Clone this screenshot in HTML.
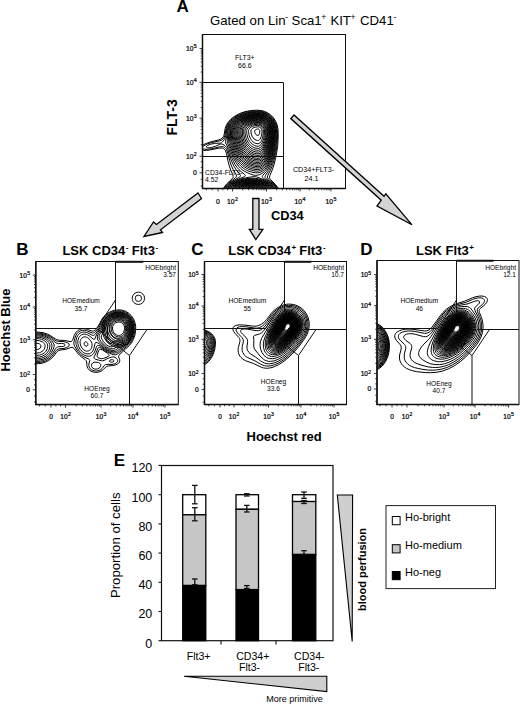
<!DOCTYPE html>
<html><head><meta charset="utf-8"><style>
html,body{margin:0;padding:0;background:#fff;}
svg{display:block;}
text{font-family:"Liberation Sans", sans-serif;fill:#000;}
text.s{stroke:#000;stroke-width:0.22px;}
</style></head><body>
<svg width="520" height="704" viewBox="0 0 520 704">
<rect width="520" height="704" fill="#fff"/>
<text x="176.5" y="12.3" font-size="17" text-anchor="start" font-weight="bold" >A</text>
<text x="210.0" y="24.5" font-size="13.2" text-anchor="start" font-weight="normal" >Gated on Lin</text>
<text x="291.6" y="24.5" font-size="13.2" text-anchor="start" font-weight="normal" >Sca1</text>
<text x="330.4" y="24.5" font-size="13.2" text-anchor="start" font-weight="normal" >KIT</text>
<text x="360.0" y="24.5" font-size="13.2" text-anchor="start" font-weight="normal" >CD41</text>
<text x="285.2" y="19.8" font-size="8.6" text-anchor="start" font-weight="normal" >-</text>
<text x="321.3" y="19.8" font-size="8.6" text-anchor="start" font-weight="normal" >+</text>
<text x="350.5" y="19.8" font-size="8.6" text-anchor="start" font-weight="normal" >+</text>
<text x="393.5" y="19.8" font-size="8.6" text-anchor="start" font-weight="normal" >-</text>
<clipPath id="cA"><rect x="202.5" y="34.5" width="143.0" height="154.0"/></clipPath>
<path clip-path="url(#cA)" d="M258.3 135.4 257.1 135.3 256.2 134.8 255.4 133.8 254.9 132.6 254.7 131.4 254.8 130.5 255.3 129.9 256.5 129.2 257.7 129.0 258.6 129.1 259.3 129.6 259.8 130.5 259.8 132.0 259.5 133.8 258.9 134.9 258.3 135.4 M258.6 140.4 257.4 140.5 256.2 140.2 254.1 139.0 252.4 136.8 251.3 134.1 250.9 131.1 251.3 129.6 252.0 128.8 252.8 128.1 255.3 127.1 258.0 126.8 259.5 127.1 261.0 128.2 261.9 129.9 262.0 131.1 261.9 133.2 261.3 136.5 260.1 139.1 259.5 139.8 258.6 140.4 M251.4 195.3 249.3 195.1 247.5 194.4 246.7 193.5 246.6 192.9 246.8 192.3 247.3 191.7 248.4 191.1 250.8 190.7 253.2 191.0 254.2 191.4 255.0 192.0 255.4 192.6 255.4 193.2 254.9 194.1 253.2 195.0 251.4 195.3 M258.9 143.5 257.7 143.7 255.9 143.4 254.4 142.8 252.9 141.7 251.7 140.5 250.6 138.9 249.7 137.1 249.1 135.3 248.5 131.4 248.6 130.2 249.0 129.3 249.9 128.1 251.0 127.2 252.3 126.5 254.1 125.8 257.7 125.3 259.9 125.7 261.0 126.3 262.0 127.2 262.8 128.4 263.2 129.6 263.4 131.1 263.3 133.8 262.9 136.2 262.3 138.6 261.6 140.5 260.8 141.9 259.8 143.0 258.9 143.5 M253.5 196.5 251.7 196.7 249.6 196.7 247.8 196.4 246.3 195.8 245.0 195.0 244.2 194.1 243.9 193.2 244.1 192.0 244.8 191.1 246.0 190.3 247.5 189.7 249.0 189.4 250.8 189.2 252.6 189.3 254.4 189.7 255.8 190.2 256.8 190.8 257.7 191.7 258.1 192.6 258.0 193.8 257.4 194.7 256.5 195.4 255.0 196.1 253.5 196.5 M258.6 146.2 256.8 146.2 254.7 145.6 252.9 144.6 251.1 143.1 249.6 141.3 248.5 139.5 247.6 137.1 247.0 134.7 246.7 132.6 246.7 130.5 247.0 129.3 247.7 128.1 249.0 126.9 250.5 125.9 252.4 125.1 254.7 124.5 258.6 124.2 259.8 124.5 261.0 125.0 262.2 125.8 263.2 126.9 264.0 128.4 264.4 129.9 264.5 132.3 264.2 135.3 263.7 138.3 263.0 140.7 262.1 142.8 261.0 144.5 259.8 145.6 258.6 146.2 M252.6 197.7 250.2 197.8 248.1 197.5 246.0 197.0 244.2 196.2 242.7 195.0 242.0 193.8 241.9 192.6 242.4 191.4 243.6 190.2 245.4 189.2 247.8 188.5 250.2 188.2 252.6 188.2 255.1 188.7 257.1 189.4 258.8 190.5 259.6 191.4 260.1 192.6 260.0 193.8 259.3 195.0 258.2 195.9 256.5 196.8 254.7 197.4 252.6 197.7 M258.9 148.3 257.1 148.4 254.7 147.9 252.6 146.9 250.5 145.3 248.8 143.4 247.3 141.0 246.3 138.6 245.5 135.9 245.1 133.5 245.0 130.8 245.3 129.3 246.0 128.1 247.3 126.6 249.0 125.4 251.1 124.4 253.5 123.7 255.9 123.3 258.3 123.2 259.8 123.5 261.0 123.9 262.5 124.8 263.7 126.0 264.6 127.5 265.2 129.3 265.4 131.4 265.2 135.3 264.7 138.6 263.9 141.6 262.8 144.3 261.6 146.2 260.4 147.5 258.9 148.3 M251.7 198.6 249.0 198.5 246.6 198.1 244.3 197.4 242.4 196.3 241.0 195.0 240.4 193.8 240.4 192.3 240.9 191.1 242.4 189.6 244.7 188.4 247.5 187.6 250.5 187.3 253.5 187.5 256.5 188.1 258.9 189.2 260.6 190.5 261.4 191.7 261.7 193.2 261.2 194.7 260.2 195.9 258.6 197.0 256.5 197.8 254.1 198.4 251.7 198.6 M258.6 150.3 256.2 150.2 253.5 149.4 251.1 148.1 249.0 146.2 247.0 143.7 245.6 141.0 244.5 138.0 243.8 134.7 243.6 131.7 243.7 129.9 244.2 128.4 245.3 126.9 247.0 125.4 249.3 124.1 252.0 123.1 254.7 122.6 258.9 122.4 260.7 122.8 262.2 123.6 263.7 124.8 264.9 126.3 265.8 128.1 266.2 129.9 266.2 133.2 265.8 137.1 265.2 140.7 264.2 143.7 263.0 146.4 261.6 148.4 260.1 149.7 258.6 150.3 M253.5 199.2 250.2 199.3 247.2 199.0 244.5 198.4 242.1 197.3 240.2 195.9 239.2 194.4 238.9 193.5 238.9 192.6 239.4 191.1 240.7 189.6 243.0 188.2 245.7 187.2 249.0 186.7 252.3 186.6 255.6 187.1 258.6 188.0 260.9 189.3 262.4 190.8 263.0 192.3 263.0 193.8 262.3 195.3 261.0 196.6 258.9 197.8 256.5 198.7 253.5 199.2 M258.6 152.1 255.9 152.0 252.9 151.0 250.5 149.7 248.1 147.5 246.1 144.9 244.4 141.9 243.2 138.6 242.5 135.0 242.3 132.0 242.4 129.9 243.0 128.1 244.1 126.6 246.0 124.9 248.4 123.5 251.1 122.5 254.4 121.8 257.1 121.6 259.2 121.7 261.0 122.1 262.5 122.8 264.2 124.2 265.4 125.7 266.3 127.5 266.9 129.6 267.0 133.2 266.6 137.7 265.9 141.3 264.8 144.9 263.4 147.9 262.0 150.0 260.4 151.4 258.6 152.1 M254.1 199.8 250.5 200.0 247.2 199.7 244.2 199.0 241.5 197.9 239.4 196.5 238.1 194.7 237.6 192.9 238.1 191.1 239.6 189.3 241.8 187.9 244.8 186.7 248.1 186.1 251.7 185.9 255.3 186.3 258.6 187.2 261.2 188.4 263.0 189.9 264.1 191.7 264.3 193.5 263.6 195.3 262.2 196.8 260.1 198.1 257.4 199.2 254.1 199.8 M259.2 153.7 256.8 153.8 253.8 153.1 251.1 151.9 248.4 149.9 246.0 147.3 244.2 144.4 242.7 141.0 241.6 137.4 241.1 134.1 241.0 130.8 241.4 129.0 242.3 127.2 243.9 125.4 246.3 123.6 249.3 122.3 252.3 121.4 255.3 121.0 258.3 120.8 260.1 121.1 261.9 121.7 263.7 122.8 265.4 124.5 266.7 126.6 267.4 128.7 267.7 131.4 267.4 136.5 266.8 140.7 265.7 144.9 264.4 148.2 262.8 150.9 261.0 152.7 259.2 153.7 M254.4 200.4 250.5 200.6 246.9 200.3 243.6 199.5 240.6 198.3 238.2 196.6 236.9 194.7 236.6 193.8 236.5 192.6 237.1 190.8 238.6 189.0 241.2 187.3 244.2 186.2 247.8 185.5 251.7 185.3 255.3 185.6 258.9 186.5 261.7 187.8 264.0 189.6 265.2 191.4 265.5 192.3 265.5 193.5 264.8 195.3 263.2 197.1 260.8 198.6 258.0 199.7 254.4 200.4 M258.0 155.4 256.2 155.3 254.4 154.9 251.1 153.6 248.1 151.5 245.3 148.5 243.0 144.9 241.3 140.7 240.2 136.2 239.9 131.7 240.1 129.3 241.0 127.2 242.5 125.4 244.8 123.6 247.5 122.2 250.8 121.0 254.1 120.4 257.7 120.2 259.8 120.3 261.6 120.8 263.5 121.8 265.2 123.2 266.5 124.8 267.6 126.9 268.2 129.0 268.4 131.1 268.2 135.9 267.6 140.1 266.6 144.6 265.4 148.2 263.7 151.4 261.9 153.6 260.1 154.9 259.2 155.2 258.0 155.4 M254.1 201.0 250.2 201.2 246.3 200.8 242.7 199.9 239.4 198.4 237.2 196.8 236.5 195.9 235.8 194.7 235.5 193.8 235.4 192.6 235.7 191.4 236.1 190.5 237.0 189.4 238.0 188.4 240.9 186.7 244.5 185.5 248.4 184.8 252.6 184.8 256.8 185.3 260.7 186.5 263.6 188.1 265.5 189.9 266.0 190.8 266.5 192.0 266.6 193.2 266.4 194.1 265.5 195.9 263.7 197.7 261.0 199.3 257.7 200.4 254.1 201.0 M258.3 156.9 254.7 156.5 251.1 155.2 247.8 153.1 245.1 150.3 242.7 146.9 240.8 142.8 239.5 138.6 238.9 133.8 238.8 130.5 239.3 128.4 240.5 126.3 242.4 124.3 245.1 122.5 248.4 121.0 252.0 120.1 255.9 119.6 258.6 119.5 260.7 119.9 262.8 120.7 264.6 121.8 266.4 123.6 267.7 125.7 268.5 127.8 269.0 130.2 268.9 135.0 268.3 140.1 267.4 144.6 266.0 148.8 264.4 152.1 262.5 154.6 260.4 156.3 258.3 156.9 M253.2 201.6 249.0 201.6 245.1 201.1 241.2 200.0 238.2 198.5 236.1 196.8 234.8 194.7 234.5 193.5 234.5 192.3 235.3 190.2 236.2 189.0 237.3 188.0 238.8 187.0 240.6 186.1 244.5 184.9 249.3 184.2 254.1 184.3 258.6 185.1 262.5 186.6 264.0 187.5 265.5 188.7 266.9 190.5 267.6 192.6 267.2 194.7 265.9 196.8 263.7 198.6 260.7 200.0 257.1 201.1 253.2 201.6 M259.5 158.1 258.3 158.4 256.5 158.3 252.9 157.5 249.6 156.0 246.6 153.7 243.9 150.8 241.6 147.3 239.8 143.4 238.6 139.2 237.9 135.3 237.7 130.8 238.1 128.7 239.2 126.6 241.2 124.2 243.9 122.3 247.2 120.7 251.1 119.6 254.7 119.0 258.3 118.9 260.7 119.2 262.8 120.0 264.9 121.3 266.9 123.3 268.4 125.7 269.3 128.4 269.6 132.0 269.2 138.0 268.4 143.4 267.1 147.9 265.5 151.8 263.7 154.8 261.6 157.0 259.5 158.1 M255.3 201.9 250.8 202.2 246.3 201.8 242.1 200.9 238.5 199.4 235.8 197.5 234.8 196.5 234.1 195.3 233.6 194.1 233.5 192.9 233.6 191.7 234.1 190.5 235.8 188.3 237.3 187.2 238.8 186.3 242.4 184.9 246.6 184.0 251.1 183.6 255.6 184.0 259.8 184.9 263.4 186.4 266.1 188.2 267.1 189.3 267.9 190.5 268.3 191.7 268.5 192.9 268.4 194.1 267.9 195.3 267.2 196.5 266.1 197.6 263.4 199.5 259.8 200.9 255.3 201.9 M259.2 159.6 258.0 159.8 255.9 159.6 253.8 159.2 252.0 158.7 248.7 157.0 245.6 154.5 242.9 151.5 240.5 147.6 238.6 143.1 237.4 138.6 236.9 134.7 236.8 130.5 237.3 128.1 238.5 126.0 240.7 123.6 243.6 121.6 247.2 120.0 251.4 118.9 255.0 118.4 258.6 118.3 261.0 118.7 263.4 119.6 265.8 121.3 267.7 123.3 269.0 125.7 269.9 128.4 270.2 132.3 269.8 138.6 268.9 144.0 267.5 149.1 265.7 153.3 263.7 156.4 261.6 158.5 260.4 159.2 259.2 159.6 M254.1 202.5 249.3 202.6 244.8 202.1 240.6 201.0 237.0 199.3 235.6 198.3 234.4 197.1 233.5 195.9 232.9 194.7 232.6 193.5 232.6 192.3 232.9 191.1 233.5 189.9 234.4 188.7 235.8 187.4 237.5 186.3 239.4 185.4 243.9 183.9 249.0 183.2 254.1 183.3 258.9 184.1 263.1 185.6 265.0 186.6 266.7 187.8 268.5 189.9 269.1 191.1 269.4 192.3 269.4 193.5 269.1 194.7 267.9 196.8 265.5 198.9 262.5 200.5 258.6 201.8 254.1 202.5 M258.6 161.1 256.8 161.1 254.7 160.8 252.6 160.3 250.5 159.5 246.9 157.3 243.6 154.2 240.8 150.3 238.4 145.5 236.8 140.7 236.0 135.6 235.8 130.8 236.2 128.7 237.3 126.3 239.2 123.9 242.1 121.7 246.0 119.8 249.9 118.6 254.7 117.8 258.3 117.7 260.7 118.0 263.4 119.0 265.5 120.3 267.4 122.1 269.1 124.5 270.2 127.2 270.7 129.9 270.6 135.3 270.0 141.0 269.0 146.4 267.5 151.2 265.7 155.1 263.4 158.3 262.2 159.4 261.0 160.3 259.8 160.8 258.6 161.1 M251.4 203.1 246.6 202.8 242.1 202.0 238.2 200.5 235.0 198.6 233.7 197.4 232.8 196.2 232.1 195.0 231.8 193.8 231.7 192.6 231.9 191.4 232.4 190.2 233.2 189.0 234.6 187.6 236.1 186.4 238.2 185.3 240.3 184.4 245.4 183.1 250.8 182.7 256.5 183.1 261.3 184.2 263.7 185.2 265.5 186.2 267.3 187.5 268.5 188.7 269.4 189.9 269.9 191.1 270.2 192.3 270.2 193.5 270.0 194.7 269.4 195.9 268.6 197.1 267.4 198.3 264.3 200.3 260.7 201.7 256.2 202.7 251.4 203.1 M259.2 162.4 257.7 162.5 255.6 162.4 253.5 162.0 251.4 161.3 247.8 159.4 244.2 156.5 241.2 153.0 238.7 148.8 236.6 143.7 235.4 138.9 234.9 134.7 234.9 130.2 235.5 127.8 236.9 125.4 239.4 122.8 242.7 120.6 246.6 118.9 251.4 117.7 255.6 117.2 259.2 117.2 261.9 117.8 264.3 118.8 266.7 120.6 268.8 123.0 270.2 125.7 271.1 128.7 271.3 130.5 271.2 133.5 270.7 140.1 269.8 145.5 268.3 150.9 266.6 155.1 264.3 158.7 261.9 161.1 260.7 161.8 259.2 162.4 M247.8 203.4 243.0 202.7 238.8 201.4 235.5 199.7 234.0 198.6 232.8 197.4 231.9 196.2 231.3 195.0 230.9 193.5 230.9 192.3 231.2 191.1 231.9 189.6 232.8 188.4 234.0 187.2 237.3 185.1 241.5 183.5 246.0 182.5 251.1 182.2 256.2 182.5 260.7 183.5 264.9 185.2 268.0 187.2 269.2 188.4 270.1 189.6 270.7 190.8 271.0 192.3 271.0 193.8 270.7 195.0 270.1 196.2 269.2 197.4 266.7 199.6 263.1 201.4 258.9 202.7 254.2 203.4 M258.6 163.8 256.5 163.8 254.4 163.5 252.3 163.0 250.2 162.2 248.1 161.1 246.3 159.9 244.5 158.5 242.7 156.7 239.7 152.7 237.2 147.9 235.2 142.2 234.2 136.8 234.0 131.7 234.2 129.0 235.3 126.3 237.4 123.6 240.4 121.2 244.2 119.2 248.7 117.7 253.8 116.8 258.0 116.6 260.4 116.8 263.4 117.7 265.8 119.1 268.1 121.2 269.8 123.6 271.1 126.6 271.7 129.6 271.7 135.6 271.1 141.9 269.9 147.9 268.3 153.0 266.3 157.2 264.0 160.6 262.8 161.8 261.3 162.9 260.1 163.4 258.6 163.8 M244.5 203.4 241.2 202.7 237.9 201.5 235.2 200.1 233.1 198.6 231.4 196.8 230.5 195.0 230.1 193.2 230.4 191.1 231.2 189.3 232.8 187.4 234.9 185.8 237.6 184.3 240.9 183.1 244.2 182.3 247.5 181.9 251.1 181.7 254.7 181.9 258.0 182.3 261.3 183.1 264.3 184.3 267.0 185.7 269.1 187.4 270.7 189.3 271.6 191.1 271.9 193.2 271.5 195.0 270.5 196.8 268.9 198.6 266.7 200.2 264.0 201.6 261.0 202.6 257.5 203.4 M259.5 165.0 258.0 165.2 255.6 165.1 253.2 164.7 251.1 164.0 249.0 163.1 246.9 161.9 243.3 159.0 240.2 155.4 237.4 150.9 235.1 145.2 233.6 139.8 233.1 135.3 233.1 130.2 233.8 127.5 235.4 124.8 236.7 123.3 238.2 121.9 241.8 119.6 246.3 117.8 251.1 116.6 255.3 116.1 259.2 116.1 261.9 116.6 264.6 117.7 267.3 119.7 269.5 122.1 271.1 125.1 272.1 128.4 272.3 130.5 272.3 133.5 271.8 140.4 270.8 146.7 269.2 152.4 267.2 157.2 264.9 161.0 263.7 162.4 262.2 163.7 260.7 164.6 259.5 165.0 M242.4 203.4 238.8 202.4 236.1 201.2 233.7 199.8 231.6 198.0 230.3 196.2 229.5 194.4 229.4 192.3 229.8 190.5 230.8 188.7 232.5 186.9 234.9 185.1 237.6 183.8 240.9 182.6 243.9 181.9 247.5 181.4 251.1 181.2 254.7 181.4 258.3 181.9 261.3 182.6 264.6 183.8 267.3 185.3 269.5 186.9 271.2 188.7 272.2 190.5 272.6 192.3 272.4 194.4 271.7 196.2 270.3 198.1 268.3 199.8 265.8 201.3 263.1 202.4 259.7 203.4 M258.9 166.5 257.1 166.6 254.7 166.4 252.3 165.8 250.2 165.1 248.1 164.1 246.0 162.9 243.9 161.3 242.1 159.6 239.0 155.7 236.3 150.9 233.8 144.6 233.0 141.6 232.6 139.2 232.2 134.1 232.4 129.6 233.3 126.6 235.1 123.9 236.6 122.4 238.2 121.1 240.0 119.9 242.4 118.6 247.2 116.9 252.3 115.9 256.8 115.5 260.1 115.7 263.1 116.5 265.8 117.8 268.4 120.0 270.5 122.7 271.9 125.7 272.7 129.0 272.8 135.0 272.2 141.9 271.1 148.2 269.3 154.2 267.2 159.0 265.9 161.1 264.6 162.9 263.4 164.1 261.9 165.3 260.4 166.1 258.9 166.5 M240.6 203.4 237.6 202.4 234.6 201.0 232.4 199.5 230.5 197.7 229.3 195.9 228.7 193.8 228.7 191.7 229.3 189.9 230.7 187.8 232.5 186.1 234.6 184.7 237.6 183.2 240.6 182.2 244.2 181.3 247.8 180.9 251.4 180.7 254.7 180.9 258.3 181.4 261.9 182.3 264.9 183.4 267.9 185.0 270.0 186.5 271.7 188.4 272.8 190.2 273.3 192.3 273.3 194.1 272.6 195.9 271.5 197.7 269.6 199.5 267.3 201.0 264.6 202.3 261.4 203.4 M258.0 168.0 255.6 167.9 253.2 167.5 250.5 166.7 248.1 165.7 246.0 164.5 243.9 163.0 241.8 161.0 240.0 159.0 238.0 156.3 236.5 153.6 235.0 150.6 233.6 147.0 232.4 143.4 231.8 141.0 231.5 138.6 231.4 135.3 231.4 130.5 232.1 127.5 232.9 125.7 234.0 124.2 235.3 122.7 237.0 121.2 240.9 118.7 245.7 116.8 250.8 115.6 256.8 115.0 260.1 115.1 263.1 115.9 265.8 117.2 268.2 119.1 270.3 121.5 272.0 124.5 273.0 127.5 273.4 130.8 273.2 138.0 272.3 144.9 271.0 150.9 269.0 156.9 266.7 161.5 265.3 163.5 264.0 165.0 262.5 166.3 261.0 167.2 259.5 167.8 258.0 168.0 M239.2 203.4 236.1 202.2 233.4 200.8 231.2 199.2 229.5 197.4 228.4 195.6 227.9 193.5 228.0 191.4 228.7 189.6 229.9 187.8 231.9 185.8 234.3 184.2 237.0 182.9 240.3 181.7 243.6 180.9 247.5 180.4 251.4 180.2 255.0 180.4 258.3 180.8 261.6 181.6 264.9 182.8 267.6 184.2 270.0 185.8 271.8 187.5 273.3 189.6 274.0 191.7 274.1 193.5 273.5 195.6 272.5 197.4 270.8 199.2 268.5 200.9 265.8 202.3 262.9 203.4 M259.5 169.3 257.7 169.5 255.0 169.4 252.3 168.8 249.9 168.1 247.5 167.0 245.4 165.8 243.3 164.2 241.5 162.6 238.2 158.7 235.4 153.9 233.9 150.6 232.4 146.4 231.4 143.4 230.8 141.0 230.5 136.8 230.6 129.9 231.5 126.9 233.0 124.2 234.3 122.7 236.1 121.0 238.2 119.5 240.3 118.3 245.1 116.3 250.5 115.0 255.3 114.5 259.5 114.5 262.8 115.2 265.8 116.6 268.7 118.8 271.0 121.5 272.7 124.8 273.7 128.4 273.9 130.8 273.9 134.7 273.2 142.5 272.0 149.4 270.2 155.7 268.1 160.8 265.5 164.9 264.0 166.6 262.5 167.8 261.0 168.7 259.5 169.3 M237.9 203.4 234.6 202.0 232.2 200.6 230.1 198.9 228.5 197.1 227.6 195.3 227.2 193.2 227.4 191.1 228.2 189.0 229.6 187.2 231.6 185.3 234.0 183.8 237.3 182.2 240.6 181.1 243.9 180.4 247.8 179.8 251.7 179.6 255.3 179.8 258.9 180.4 262.5 181.3 265.5 182.5 268.5 184.1 270.6 185.5 272.6 187.5 273.9 189.3 274.6 191.4 274.8 193.2 274.4 195.3 273.4 197.1 271.9 198.9 269.7 200.7 267.3 202.1 264.2 203.4 M258.6 171.0 256.2 171.1 253.8 170.8 251.4 170.2 248.7 169.3 246.3 168.1 244.2 166.8 242.1 165.1 240.3 163.4 238.5 161.2 236.9 159.0 234.2 153.9 230.5 144.3 229.9 142.2 229.6 140.1 229.7 132.3 230.0 129.0 230.5 127.2 231.2 125.7 233.4 122.7 234.9 121.2 237.0 119.6 239.4 118.1 241.8 116.9 244.5 115.9 247.5 115.1 253.5 114.1 258.3 113.9 261.3 114.3 264.6 115.4 267.6 117.2 270.3 119.7 272.3 122.7 273.6 126.0 274.3 129.6 274.3 137.1 273.5 144.9 272.0 152.1 270.1 158.1 267.8 163.2 266.4 165.4 264.9 167.3 263.4 168.7 261.9 169.8 260.4 170.5 258.6 171.0 M236.7 203.4 233.7 202.1 231.3 200.6 229.2 198.8 227.6 196.8 226.7 194.7 226.5 192.6 226.8 190.5 227.9 188.4 229.5 186.4 231.6 184.6 234.0 183.2 237.3 181.6 240.9 180.5 244.8 179.6 248.4 179.2 252.0 179.0 255.6 179.2 259.2 179.8 262.5 180.7 265.5 181.9 268.5 183.4 271.0 185.1 272.9 186.9 274.4 189.0 275.3 191.1 275.5 193.2 275.0 195.3 274.1 197.1 272.7 198.9 270.6 200.7 268.2 202.1 265.4 203.4 M257.7 172.8 255.3 172.8 252.9 172.4 250.2 171.7 247.8 170.8 245.4 169.6 243.3 168.2 241.2 166.5 239.4 164.6 237.8 162.6 236.1 160.2 233.5 155.1 229.0 143.4 228.6 141.6 228.5 139.8 228.9 130.5 229.4 128.1 230.1 126.3 231.1 124.5 232.4 122.7 234.0 121.1 236.4 119.2 238.8 117.7 241.2 116.5 244.2 115.4 247.5 114.5 250.8 113.9 257.4 113.4 260.7 113.6 264.3 114.7 267.6 116.5 270.2 118.8 272.2 121.5 273.8 124.8 274.7 128.4 275.0 132.3 274.7 139.8 273.7 147.3 272.0 154.8 269.9 160.8 267.3 165.9 265.8 168.0 264.3 169.6 262.8 170.9 261.0 172.0 259.2 172.6 257.7 172.8 M235.5 203.4 232.8 202.1 230.1 200.3 228.2 198.6 226.7 196.5 225.9 194.4 225.8 192.3 226.2 190.2 227.3 188.1 229.1 186.0 231.3 184.2 234.0 182.5 237.3 181.0 240.9 179.8 244.8 178.9 249.0 178.4 252.6 178.2 255.6 178.4 258.9 178.9 262.2 179.9 265.8 181.4 269.1 183.1 271.5 184.8 273.4 186.6 275.0 188.7 275.9 190.8 276.1 192.9 275.8 195.0 275.0 196.8 273.7 198.6 271.8 200.4 269.4 202.0 266.5 203.4 M257.4 175.2 255.3 175.4 253.5 175.1 250.5 174.1 247.2 172.7 244.8 171.5 242.7 170.1 240.6 168.3 238.8 166.5 235.8 162.4 233.2 157.5 229.8 148.4 227.6 143.4 227.3 142.2 227.2 140.7 228.1 130.2 228.6 127.8 229.4 126.0 230.4 124.2 231.7 122.4 233.4 120.7 235.8 118.8 238.5 117.2 241.2 115.9 244.2 114.8 247.5 113.9 250.8 113.3 254.4 112.9 258.0 112.8 261.6 113.2 265.2 114.5 268.5 116.5 271.2 119.1 273.2 122.1 274.7 125.7 275.4 129.3 275.5 133.8 275.1 141.3 274.0 149.1 272.2 156.6 270.0 162.9 267.4 167.7 264.6 171.3 263.1 172.6 261.3 173.8 259.2 174.8 257.4 175.2 M234.5 203.4 231.3 201.7 229.0 200.1 227.3 198.3 225.9 196.2 225.2 194.1 225.2 191.7 225.8 189.6 227.0 187.5 228.6 185.6 231.0 183.7 233.7 182.0 237.0 180.5 240.6 179.2 245.1 178.0 249.9 177.1 254.4 176.6 256.5 176.9 259.2 177.8 264.6 180.1 268.2 181.9 270.9 183.6 273.0 185.4 274.7 187.2 275.8 189.0 276.5 190.8 276.8 192.9 276.5 195.0 275.7 196.8 274.4 198.6 272.5 200.4 270.3 202.0 267.5 203.4 M233.5 203.4 231.0 202.1 228.9 200.6 227.1 198.9 225.7 197.1 224.9 195.3 224.4 193.2 224.5 191.4 225.2 189.3 226.0 187.8 227.4 186.0 229.2 184.3 231.0 182.9 235.8 180.2 244.3 176.7 245.1 176.1 245.3 175.5 245.1 174.9 244.5 174.3 240.9 171.4 238.8 169.4 237.0 167.3 235.2 164.7 233.6 161.7 232.1 158.4 228.6 148.5 225.7 143.1 225.5 141.3 226.8 135.9 227.3 130.2 227.7 128.4 229.0 125.1 231.1 122.1 234.0 119.3 237.9 116.7 242.4 114.7 247.2 113.3 252.0 112.5 257.4 112.2 260.7 112.5 264.0 113.3 267.0 114.8 269.7 116.7 271.9 119.1 273.8 122.1 275.2 125.4 276.0 129.0 276.1 135.6 275.6 143.4 274.4 150.9 272.8 157.5 270.8 163.5 268.6 168.0 266.4 171.4 262.9 175.2 262.2 176.4 262.4 177.3 263.3 178.2 270.3 182.5 273.6 185.1 275.0 186.6 276.0 188.1 276.8 189.6 277.3 191.1 277.4 192.9 277.2 194.7 276.5 196.5 275.6 198.0 274.3 199.5 272.7 200.9 270.6 202.3 268.5 203.4 M232.5 203.4 230.1 202.0 228.3 200.7 226.6 199.2 225.4 197.7 224.4 195.9 223.9 194.1 223.8 192.3 224.1 190.5 224.6 189.0 225.4 187.5 227.7 184.8 231.6 181.7 239.6 177.0 240.3 176.1 240.4 175.5 240.2 174.9 236.1 169.8 233.7 165.8 231.1 159.9 227.7 149.4 226.5 147.2 225.0 145.7 222.9 144.4 221.7 144.1 220.8 144.0 220.2 144.1 215.3 146.4 211.2 147.5 209.1 147.8 207.6 147.7 206.5 147.3 206.3 146.7 206.7 146.1 207.4 145.5 210.3 144.3 214.8 143.3 220.5 143.2 221.4 142.8 222.6 141.8 224.4 139.5 225.5 137.1 226.1 134.4 226.7 129.0 227.3 126.9 228.1 125.1 229.4 123.0 230.9 121.2 232.8 119.4 234.9 117.8 237.3 116.3 239.7 115.1 245.1 113.2 251.1 112.0 257.4 111.6 260.7 111.9 264.0 112.7 267.3 114.2 270.0 116.2 272.4 118.8 274.4 121.8 275.8 125.4 276.5 128.7 276.8 134.7 276.4 141.9 275.6 148.8 274.1 156.0 272.5 161.7 270.7 166.5 268.6 170.7 265.4 175.5 265.0 176.7 265.2 177.6 265.9 178.5 272.7 183.5 275.7 186.6 276.9 188.4 277.7 190.2 278.0 191.7 278.0 193.5 277.3 196.2 275.5 198.9 272.9 201.3 269.4 203.4 M231.6 203.4 228.3 201.3 225.7 198.9 223.9 196.2 223.2 193.5 223.2 191.7 223.6 189.9 224.3 188.1 225.5 186.3 227.1 184.5 228.9 182.8 235.4 177.9 236.2 177.0 236.5 176.1 236.1 174.6 233.1 169.5 231.1 165.0 229.6 160.2 227.4 152.0 226.5 149.7 225.7 148.5 224.7 147.5 223.5 146.9 222.3 146.6 219.9 146.8 211.8 148.7 207.0 149.3 204.9 149.2 203.2 148.8 202.5 148.2 202.5 147.3 202.8 146.7 203.8 145.8 207.2 144.0 211.8 142.5 219.9 140.8 221.7 140.0 222.9 139.1 224.0 137.7 224.8 135.9 225.3 133.8 226.0 128.7 226.6 126.6 227.4 124.8 228.7 122.7 230.5 120.6 232.5 118.7 234.9 116.9 239.4 114.5 242.4 113.3 245.1 112.4 250.8 111.3 257.1 111.0 260.7 111.2 264.3 112.1 267.6 113.6 270.3 115.6 272.8 118.2 274.9 121.5 276.4 125.1 277.1 128.4 277.5 133.5 277.3 140.4 276.7 146.7 275.5 153.6 274.1 159.9 272.5 165.3 270.5 170.1 267.7 175.5 267.3 177.0 267.6 177.9 268.4 179.1 273.9 183.8 276.7 186.9 277.6 188.4 278.3 190.2 278.6 191.7 278.6 193.5 277.9 196.2 276.2 198.9 273.7 201.3 270.3 203.4 M230.7 203.4 227.5 201.3 225.0 198.9 223.3 196.2 222.5 193.5 222.5 192.0 222.8 190.2 223.3 188.7 224.3 186.9 226.8 183.8 232.2 178.8 233.0 177.6 233.2 176.7 232.9 174.9 230.7 170.1 229.4 166.2 228.1 161.4 226.4 153.3 225.3 150.3 224.4 149.2 223.5 148.6 222.3 148.1 221.1 148.0 218.4 148.3 209.1 150.1 206.1 150.4 203.4 150.3 201.7 150.0 200.4 149.4 199.9 148.8 199.9 147.9 200.4 147.0 201.6 145.8 205.2 143.8 210.0 142.1 219.1 139.8 220.8 139.1 222.3 138.0 223.3 136.8 224.1 135.0 225.2 128.4 225.9 126.3 226.9 124.2 228.3 122.1 230.1 120.0 232.2 118.0 234.6 116.3 239.4 113.6 244.8 111.7 250.5 110.6 256.8 110.2 261.0 110.5 264.6 111.4 267.9 113.0 270.9 115.1 273.5 117.9 275.6 121.2 277.1 124.8 277.9 128.4 278.2 133.2 278.1 139.5 277.7 145.8 276.7 152.4 275.5 158.7 274.0 164.7 272.3 169.8 269.8 175.5 269.5 177.3 269.7 178.2 270.4 179.4 275.5 184.5 277.8 187.5 279.0 190.5 279.3 192.0 279.3 193.5 278.5 196.2 276.9 198.9 274.4 201.3 271.2 203.4" fill="none" stroke="#000" stroke-width="1.0" stroke-linejoin="round"/>
<rect x="202.5" y="34.5" width="143.0" height="154.0" fill="none" stroke="#111" stroke-width="1"/>
<polyline points="202.5,34.5 202.5,188.5 345.5,188.5" fill="none" stroke="#111" stroke-width="1.5"/>
<line x1="199.5" y1="156.2" x2="202.5" y2="156.2" stroke="#111" stroke-width="0.8"/>
<line x1="200.7" y1="144.8" x2="202.5" y2="144.8" stroke="#111" stroke-width="0.8"/>
<line x1="200.7" y1="138.1" x2="202.5" y2="138.1" stroke="#111" stroke-width="0.8"/>
<line x1="200.7" y1="133.3" x2="202.5" y2="133.3" stroke="#111" stroke-width="0.8"/>
<line x1="200.7" y1="129.6" x2="202.5" y2="129.6" stroke="#111" stroke-width="0.8"/>
<line x1="200.7" y1="126.6" x2="202.5" y2="126.6" stroke="#111" stroke-width="0.8"/>
<line x1="200.7" y1="124.1" x2="202.5" y2="124.1" stroke="#111" stroke-width="0.8"/>
<line x1="200.7" y1="121.9" x2="202.5" y2="121.9" stroke="#111" stroke-width="0.8"/>
<line x1="200.7" y1="119.9" x2="202.5" y2="119.9" stroke="#111" stroke-width="0.8"/>
<line x1="199.5" y1="118.2" x2="202.5" y2="118.2" stroke="#111" stroke-width="0.8"/>
<line x1="200.7" y1="107.4" x2="202.5" y2="107.4" stroke="#111" stroke-width="0.8"/>
<line x1="200.7" y1="101.1" x2="202.5" y2="101.1" stroke="#111" stroke-width="0.8"/>
<line x1="200.7" y1="96.6" x2="202.5" y2="96.6" stroke="#111" stroke-width="0.8"/>
<line x1="200.7" y1="93.1" x2="202.5" y2="93.1" stroke="#111" stroke-width="0.8"/>
<line x1="200.7" y1="90.3" x2="202.5" y2="90.3" stroke="#111" stroke-width="0.8"/>
<line x1="200.7" y1="87.9" x2="202.5" y2="87.9" stroke="#111" stroke-width="0.8"/>
<line x1="200.7" y1="85.8" x2="202.5" y2="85.8" stroke="#111" stroke-width="0.8"/>
<line x1="200.7" y1="83.9" x2="202.5" y2="83.9" stroke="#111" stroke-width="0.8"/>
<line x1="199.5" y1="82.3" x2="202.5" y2="82.3" stroke="#111" stroke-width="0.8"/>
<line x1="200.7" y1="72.1" x2="202.5" y2="72.1" stroke="#111" stroke-width="0.8"/>
<line x1="200.7" y1="66.2" x2="202.5" y2="66.2" stroke="#111" stroke-width="0.8"/>
<line x1="200.7" y1="62.0" x2="202.5" y2="62.0" stroke="#111" stroke-width="0.8"/>
<line x1="200.7" y1="58.7" x2="202.5" y2="58.7" stroke="#111" stroke-width="0.8"/>
<line x1="200.7" y1="56.0" x2="202.5" y2="56.0" stroke="#111" stroke-width="0.8"/>
<line x1="200.7" y1="53.7" x2="202.5" y2="53.7" stroke="#111" stroke-width="0.8"/>
<line x1="200.7" y1="51.8" x2="202.5" y2="51.8" stroke="#111" stroke-width="0.8"/>
<line x1="200.7" y1="50.0" x2="202.5" y2="50.0" stroke="#111" stroke-width="0.8"/>
<line x1="199.5" y1="48.5" x2="202.5" y2="48.5" stroke="#111" stroke-width="0.8"/>
<line x1="199.5" y1="172.8" x2="202.5" y2="172.8" stroke="#111" stroke-width="0.8"/>
<line x1="200.7" y1="167.3" x2="202.5" y2="167.3" stroke="#111" stroke-width="0.8"/>
<line x1="200.7" y1="161.8" x2="202.5" y2="161.8" stroke="#111" stroke-width="0.8"/>
<line x1="200.7" y1="179.4" x2="202.5" y2="179.4" stroke="#111" stroke-width="0.8"/>
<line x1="200.7" y1="186.1" x2="202.5" y2="186.1" stroke="#111" stroke-width="0.8"/>
<line x1="232.5" y1="188.5" x2="232.5" y2="191.5" stroke="#111" stroke-width="0.8"/>
<line x1="242.7" y1="188.5" x2="242.7" y2="190.3" stroke="#111" stroke-width="0.8"/>
<line x1="248.7" y1="188.5" x2="248.7" y2="190.3" stroke="#111" stroke-width="0.8"/>
<line x1="253.0" y1="188.5" x2="253.0" y2="190.3" stroke="#111" stroke-width="0.8"/>
<line x1="256.3" y1="188.5" x2="256.3" y2="190.3" stroke="#111" stroke-width="0.8"/>
<line x1="259.0" y1="188.5" x2="259.0" y2="190.3" stroke="#111" stroke-width="0.8"/>
<line x1="261.2" y1="188.5" x2="261.2" y2="190.3" stroke="#111" stroke-width="0.8"/>
<line x1="263.2" y1="188.5" x2="263.2" y2="190.3" stroke="#111" stroke-width="0.8"/>
<line x1="264.9" y1="188.5" x2="264.9" y2="190.3" stroke="#111" stroke-width="0.8"/>
<line x1="266.5" y1="188.5" x2="266.5" y2="191.5" stroke="#111" stroke-width="0.8"/>
<line x1="276.6" y1="188.5" x2="276.6" y2="190.3" stroke="#111" stroke-width="0.8"/>
<line x1="282.5" y1="188.5" x2="282.5" y2="190.3" stroke="#111" stroke-width="0.8"/>
<line x1="286.7" y1="188.5" x2="286.7" y2="190.3" stroke="#111" stroke-width="0.8"/>
<line x1="289.9" y1="188.5" x2="289.9" y2="190.3" stroke="#111" stroke-width="0.8"/>
<line x1="292.6" y1="188.5" x2="292.6" y2="190.3" stroke="#111" stroke-width="0.8"/>
<line x1="294.8" y1="188.5" x2="294.8" y2="190.3" stroke="#111" stroke-width="0.8"/>
<line x1="296.8" y1="188.5" x2="296.8" y2="190.3" stroke="#111" stroke-width="0.8"/>
<line x1="298.5" y1="188.5" x2="298.5" y2="190.3" stroke="#111" stroke-width="0.8"/>
<line x1="300.0" y1="188.5" x2="300.0" y2="191.5" stroke="#111" stroke-width="0.8"/>
<line x1="309.3" y1="188.5" x2="309.3" y2="190.3" stroke="#111" stroke-width="0.8"/>
<line x1="314.8" y1="188.5" x2="314.8" y2="190.3" stroke="#111" stroke-width="0.8"/>
<line x1="318.7" y1="188.5" x2="318.7" y2="190.3" stroke="#111" stroke-width="0.8"/>
<line x1="321.7" y1="188.5" x2="321.7" y2="190.3" stroke="#111" stroke-width="0.8"/>
<line x1="324.1" y1="188.5" x2="324.1" y2="190.3" stroke="#111" stroke-width="0.8"/>
<line x1="326.2" y1="188.5" x2="326.2" y2="190.3" stroke="#111" stroke-width="0.8"/>
<line x1="328.0" y1="188.5" x2="328.0" y2="190.3" stroke="#111" stroke-width="0.8"/>
<line x1="329.6" y1="188.5" x2="329.6" y2="190.3" stroke="#111" stroke-width="0.8"/>
<line x1="331.0" y1="188.5" x2="331.0" y2="191.5" stroke="#111" stroke-width="0.8"/>
<line x1="218.0" y1="188.5" x2="218.0" y2="191.5" stroke="#111" stroke-width="0.8"/>
<line x1="222.8" y1="188.5" x2="222.8" y2="190.3" stroke="#111" stroke-width="0.8"/>
<line x1="227.6" y1="188.5" x2="227.6" y2="190.3" stroke="#111" stroke-width="0.8"/>
<line x1="212.2" y1="188.5" x2="212.2" y2="190.3" stroke="#111" stroke-width="0.8"/>
<line x1="206.4" y1="188.5" x2="206.4" y2="190.3" stroke="#111" stroke-width="0.8"/>
<text x="196.7" y="175.2" font-size="6.8" text-anchor="end" font-weight="normal" class="s">0</text>
<text class="s" x="196.7" y="159.0" font-size="6.8" text-anchor="end">10<tspan dx="0.3" dy="-2.9" font-size="5.3">2</tspan></text>
<text class="s" x="196.7" y="121.0" font-size="6.8" text-anchor="end">10<tspan dx="0.3" dy="-2.9" font-size="5.3">3</tspan></text>
<text class="s" x="196.7" y="85.1" font-size="6.8" text-anchor="end">10<tspan dx="0.3" dy="-2.9" font-size="5.3">4</tspan></text>
<text class="s" x="196.7" y="51.3" font-size="6.8" text-anchor="end">10<tspan dx="0.3" dy="-2.9" font-size="5.3">5</tspan></text>
<text x="218.0" y="203.6" font-size="6.8" text-anchor="middle" font-weight="normal" class="s">0</text>
<text class="s" x="232.5" y="203.6" font-size="6.8" text-anchor="middle">10<tspan dx="0.3" dy="-2.9" font-size="5.3">2</tspan></text>
<text class="s" x="266.5" y="203.6" font-size="6.8" text-anchor="middle">10<tspan dx="0.3" dy="-2.9" font-size="5.3">3</tspan></text>
<text class="s" x="300.0" y="203.6" font-size="6.8" text-anchor="middle">10<tspan dx="0.3" dy="-2.9" font-size="5.3">4</tspan></text>
<text class="s" x="331.0" y="203.6" font-size="6.8" text-anchor="middle">10<tspan dx="0.3" dy="-2.9" font-size="5.3">5</tspan></text>
<polyline points="202.5,82.5 283.5,82.5 283.5,188.5" fill="none" stroke="#111" stroke-width="1"/>
<line x1="202.5" y1="156.5" x2="283.5" y2="156.5" stroke="#111" stroke-width="1"/>
<text x="244.8" y="60.3" font-size="6.9" text-anchor="middle" font-weight="normal" >FLT3+</text>
<text x="244.8" y="68.4" font-size="6.9" text-anchor="middle" font-weight="normal" >66.6</text>
<text x="205.0" y="174.5" font-size="6.8" text-anchor="start" font-weight="normal" >CD34-FLT3-</text>
<text x="205.0" y="181.5" font-size="6.8" text-anchor="start" font-weight="normal" >4.52</text>
<text x="313.5" y="172.0" font-size="7.2" text-anchor="middle" font-weight="normal" >CD34+FLT3-</text>
<text x="311.5" y="181.0" font-size="7.2" text-anchor="middle" font-weight="normal" >24.1</text>
<text transform="translate(176.7,117.4) rotate(-90)" x="0" y="0" font-size="14" font-weight="bold" text-anchor="middle">FLT-3</text>
<text x="271.0" y="220.4" font-size="12.8" text-anchor="start" font-weight="bold" >CD34</text>
<polygon points="198.0,193.0 201.5,198.5 160.5,229.8 162.5,232.5 144.0,236.5 153.5,222.0 156.5,224.5" fill="#d4d4d4" stroke="#000" stroke-width="1.3" stroke-linejoin="miter"/>
<polygon points="252.8,198.5 259.0,198.5 259.0,229.4 262.9,229.4 255.8,239.5 249.4,229.4 252.8,229.4" fill="#d4d4d4" stroke="#000" stroke-width="1.3" stroke-linejoin="miter"/>
<polygon points="290.8,118.6 294.0,115.0 384.0,196.3 385.8,193.9 412.0,224.8 377.0,206.0 381.2,200.2" fill="#d4d4d4" stroke="#000" stroke-width="1.3" stroke-linejoin="miter"/>
<text x="16.3" y="254.7" font-size="17" text-anchor="start" font-weight="bold" >B</text>
<text x="191.3" y="254.7" font-size="17" text-anchor="start" font-weight="bold" >C</text>
<text x="360.3" y="254.7" font-size="17" text-anchor="start" font-weight="bold" >D</text>
<text x="62.4" y="255.1" font-size="13" font-weight="bold">LSK CD34</text>
<text x="125.8" y="250" font-size="8" font-weight="bold">-</text>
<text x="131.8" y="255.1" font-size="13" font-weight="bold">Flt3</text>
<text x="155.6" y="250" font-size="8" font-weight="bold">-</text>
<text x="228.2" y="255.1" font-size="13" font-weight="bold">LSK CD34</text>
<text x="291.6" y="250" font-size="8" font-weight="bold">+</text>
<text x="299.2" y="255.1" font-size="13" font-weight="bold">Flt3</text>
<text x="323.0" y="250" font-size="8" font-weight="bold">-</text>
<text x="416.0" y="255.1" font-size="13" font-weight="bold">LSK Flt3</text>
<text x="469.3" y="250" font-size="8" font-weight="bold">+</text>
<text transform="translate(10,330) rotate(-90)" x="0" y="0" font-size="13" font-weight="bold" text-anchor="middle">Hoechst Blue</text>
<text x="246.5" y="441.2" font-size="13" text-anchor="start" font-weight="bold" >Hoechst red</text>
<clipPath id="cB"><rect x="35.8" y="261.5" width="142.5" height="143.10000000000002"/></clipPath>
<path clip-path="url(#cB)" d="M119.8 335.4 118.6 335.4 117.4 335.3 116.2 334.8 115.0 334.0 114.0 332.9 113.3 331.7 112.5 329.0 112.6 326.6 113.7 324.5 114.5 323.6 115.6 322.8 118.0 322.0 120.1 322.1 121.3 322.5 122.2 323.1 123.7 324.8 124.3 326.0 124.5 327.2 124.4 329.9 123.4 332.6 121.8 334.4 120.9 335.0 119.8 335.4 M119.2 338.3 117.4 338.3 115.6 337.9 114.1 337.2 112.8 336.2 111.6 334.7 110.6 332.6 109.9 330.5 109.7 328.7 109.9 326.9 110.3 325.4 111.1 323.9 112.3 322.4 113.8 321.2 115.3 320.4 117.1 319.9 118.9 319.7 120.4 319.8 121.9 320.3 123.1 321.0 124.3 322.0 125.2 323.1 126.0 324.5 126.4 326.0 126.7 327.8 126.5 329.9 126.1 331.7 125.5 333.5 124.6 335.0 123.4 336.4 122.2 337.3 120.7 338.0 119.2 338.3 M37.6 349.4 36.4 349.4 35.5 348.8 34.9 347.9 34.6 346.7 34.6 345.5 34.9 344.5 35.7 343.7 36.7 343.3 38.2 343.4 39.7 344.0 40.6 344.9 41.0 345.8 40.8 347.0 40.1 348.2 38.8 349.1 37.6 349.4 M110.8 343.4 109.3 343.4 107.8 342.6 106.6 341.1 106.1 339.5 106.3 338.3 107.3 336.5 107.6 335.6 107.3 331.1 107.4 329.0 107.8 326.6 108.6 324.5 109.7 322.7 111.1 321.0 112.8 319.7 114.7 318.7 116.8 318.1 119.2 317.9 121.0 318.2 122.8 318.8 124.6 320.0 126.1 321.5 127.2 323.3 128.0 325.4 128.3 327.5 128.2 330.2 127.6 332.6 126.8 334.7 126.0 336.2 124.9 337.6 123.7 338.7 122.5 339.5 119.8 340.5 114.4 341.3 110.8 343.4 M37.9 353.0 36.7 353.0 35.8 352.9 34.1 351.8 32.8 349.9 32.0 347.3 32.1 344.9 32.9 342.8 34.3 341.3 35.2 340.8 36.4 340.5 39.4 340.7 42.1 341.7 43.3 342.5 44.1 343.4 44.7 344.3 45.1 345.5 45.0 346.7 44.7 348.2 44.1 349.4 43.1 350.6 40.9 352.2 39.4 352.7 37.9 353.0 M112.3 346.7 110.5 346.8 108.7 346.2 106.9 345.2 105.2 343.7 103.2 341.3 101.7 338.9 101.2 337.1 101.4 335.6 102.0 334.4 104.6 330.8 106.5 325.4 107.4 323.3 108.7 321.4 110.2 319.8 112.9 317.9 115.9 316.8 119.2 316.4 122.2 316.9 124.3 317.9 126.2 319.4 127.7 321.2 128.9 323.6 129.5 325.7 129.7 328.1 129.4 331.1 128.8 333.8 127.9 335.9 126.8 337.7 125.6 339.2 124.3 340.4 121.9 341.8 117.1 343.6 113.9 346.1 112.3 346.7 M39.4 355.1 36.4 355.3 35.2 355.0 34.0 354.4 32.8 353.3 31.9 352.1 31.2 350.6 30.6 348.8 30.3 345.5 30.6 344.0 31.1 342.5 31.9 341.2 33.0 340.1 34.3 339.3 35.5 338.8 37.0 338.6 39.4 338.8 41.5 339.3 43.3 340.1 44.9 341.0 46.2 342.2 47.0 343.4 47.6 344.9 47.7 346.4 47.4 348.2 46.7 350.0 45.7 351.5 44.5 352.7 43.0 353.8 41.2 354.6 39.4 355.1 M112.6 348.8 110.5 348.6 108.4 347.9 106.3 346.7 104.2 344.9 100.9 341.3 99.6 339.5 99.0 337.7 99.2 335.6 100.2 333.5 103.3 329.3 105.6 323.9 106.5 322.1 107.8 320.3 109.3 318.7 112.0 316.8 115.3 315.5 118.9 315.1 121.9 315.5 124.3 316.4 126.4 317.9 128.2 319.8 129.6 322.1 130.5 324.5 130.9 327.2 130.8 330.5 130.2 333.5 129.3 335.9 128.3 338.0 127.0 339.8 125.5 341.3 123.1 343.0 118.6 345.3 115.0 348.1 113.8 348.6 112.6 348.8 M37.0 357.2 35.5 357.0 34.0 356.4 32.5 355.3 31.3 353.9 30.3 352.1 29.6 350.3 29.2 348.2 29.0 346.1 29.1 344.3 29.5 342.8 30.2 341.3 31.3 339.8 32.5 338.7 34.0 337.8 35.5 337.4 37.0 337.2 39.4 337.4 41.8 337.8 44.2 338.7 46.0 339.7 47.6 341.0 48.8 342.5 49.7 344.3 49.9 345.8 49.7 347.9 48.9 350.3 47.7 352.1 46.1 353.9 44.2 355.3 41.8 356.4 39.4 357.0 37.0 357.2 M86.8 346.2 85.9 346.2 85.3 345.9 84.3 344.6 84.2 343.1 84.4 342.5 85.0 341.9 85.6 341.7 86.5 342.0 87.1 342.5 87.7 343.4 87.9 344.3 87.8 345.2 87.4 345.8 86.8 346.2 M114.1 350.3 112.0 350.4 109.6 349.8 107.2 348.7 104.5 346.8 98.2 340.7 97.4 338.9 97.4 336.5 97.8 335.0 98.6 333.5 102.4 328.2 105.3 321.8 106.6 319.8 108.1 318.1 111.1 315.9 114.4 314.5 118.0 313.9 121.3 314.1 124.0 315.0 126.4 316.4 128.4 318.2 130.1 320.6 131.3 323.3 131.9 326.0 132.0 329.0 131.6 332.3 130.8 335.3 129.8 337.7 128.6 339.8 127.0 341.7 124.9 343.6 120.3 346.4 116.8 349.2 115.6 349.9 114.1 350.3 M38.5 358.7 36.4 358.8 34.9 358.4 33.1 357.6 31.6 356.3 30.2 354.5 29.2 352.7 28.4 350.3 28.0 347.9 27.9 345.5 28.1 343.7 28.7 341.9 29.6 340.1 31.0 338.4 32.5 337.3 34.3 336.4 36.1 336.0 38.8 336.0 41.5 336.4 44.2 337.3 46.6 338.4 48.5 339.8 50.3 341.6 51.4 343.4 52.0 345.2 51.8 347.3 51.0 350.0 49.7 352.4 48.1 354.3 46.1 356.0 43.9 357.3 41.2 358.2 38.5 358.7 M88.6 350.9 87.7 351.1 86.5 351.1 85.3 350.8 84.1 350.2 82.0 348.2 80.7 345.8 80.1 343.1 80.1 341.6 80.4 340.4 80.9 339.2 81.6 338.3 83.2 337.1 84.1 336.9 85.3 336.9 86.5 337.1 87.7 337.7 89.8 339.5 90.7 340.7 91.5 342.2 91.9 343.4 92.1 344.9 91.7 347.6 91.1 348.8 90.4 349.8 89.5 350.5 88.6 350.9 M88.0 353.9 86.8 353.8 85.3 353.5 83.8 352.8 82.6 351.9 80.2 349.4 78.6 346.4 77.8 343.4 77.9 340.4 78.8 337.7 79.6 336.5 80.4 335.6 81.7 334.7 83.2 334.2 84.7 334.1 86.2 334.4 87.7 334.9 89.2 335.8 93.4 339.2 94.0 339.5 94.6 339.4 96.8 334.1 97.9 332.3 101.2 327.9 103.8 322.1 105.2 319.7 106.9 317.7 108.7 316.1 110.8 314.8 112.9 313.9 115.0 313.2 117.4 312.8 119.5 312.8 121.6 313.0 123.7 313.6 125.5 314.5 127.3 315.7 129.1 317.4 131.1 320.3 132.4 323.3 133.0 326.6 133.0 330.2 132.3 334.1 131.0 337.7 129.1 341.0 126.7 343.7 121.3 347.6 117.4 350.7 115.3 351.6 113.2 351.8 110.5 351.3 107.5 350.0 104.5 348.1 99.4 343.9 97.3 342.7 95.8 342.3 95.5 342.5 95.1 343.1 93.9 348.5 92.7 351.2 91.6 352.4 90.7 353.1 89.5 353.7 88.0 353.9 M40.0 359.9 37.3 360.2 35.5 360.0 33.7 359.4 31.9 358.3 30.4 356.8 29.1 354.8 28.0 352.4 27.2 349.7 26.9 347.0 26.9 344.6 27.4 342.5 28.2 340.4 29.7 338.3 31.3 336.8 33.1 335.7 35.2 335.0 37.9 334.9 41.2 335.2 44.2 336.0 46.9 337.2 49.3 338.7 51.5 340.7 53.4 343.1 54.2 344.9 54.1 346.7 53.1 349.4 51.5 352.4 49.6 354.9 47.5 356.8 45.4 358.1 43.0 359.2 40.0 359.9 M90.1 356.0 88.6 356.2 86.8 356.0 84.7 355.4 82.9 354.4 81.4 353.2 79.9 351.7 78.6 350.0 77.4 347.9 76.1 344.6 75.9 343.1 75.9 341.3 76.3 339.2 76.8 337.4 77.7 335.6 78.7 334.3 79.9 333.3 81.4 332.5 82.9 332.1 84.7 332.1 86.2 332.3 87.7 332.8 92.5 335.4 93.4 335.6 94.0 335.3 94.9 334.5 100.0 327.8 100.9 326.2 103.0 321.2 105.0 318.2 106.6 316.5 108.4 315.0 110.5 313.8 112.6 312.9 114.7 312.2 117.1 311.8 119.5 311.7 121.6 312.0 123.7 312.6 125.5 313.3 127.3 314.4 129.1 316.0 131.4 318.8 132.9 321.8 133.8 325.4 134.0 329.0 133.4 333.5 132.3 337.4 130.4 341.0 128.0 344.0 126.4 345.5 122.4 348.5 118.6 351.7 116.5 352.7 114.4 353.1 111.7 352.8 108.7 351.7 105.4 349.8 100.0 345.9 98.8 345.4 97.6 345.5 97.0 345.9 96.5 346.7 95.1 350.9 93.8 353.3 92.2 355.0 91.3 355.6 90.1 356.0 M38.2 361.4 36.1 361.4 34.3 361.0 32.5 360.1 31.0 359.0 29.6 357.5 28.4 355.7 27.3 353.3 26.6 351.2 26.1 348.5 26.0 346.1 26.1 344.0 26.6 341.9 27.5 339.8 28.6 338.1 30.1 336.5 31.6 335.4 34.0 334.3 36.4 333.9 40.0 334.0 43.6 334.7 46.6 335.8 49.3 337.3 51.5 338.9 55.0 342.1 56.8 343.2 58.3 343.6 61.6 343.4 63.1 343.6 64.4 344.0 65.0 344.6 65.0 345.5 63.7 346.3 61.9 346.6 58.6 346.7 57.7 346.9 56.8 347.4 55.3 349.0 52.6 353.3 51.3 355.1 49.3 357.1 47.2 358.6 45.1 359.7 42.7 360.6 40.3 361.2 38.2 361.4 M112.9 362.0 111.4 362.2 110.2 362.0 109.4 361.4 109.5 360.8 110.0 360.2 111.1 359.8 112.3 359.7 113.2 359.9 113.9 360.5 113.9 361.1 113.5 361.7 112.9 362.0 M97.6 368.9 96.1 369.1 94.6 369.0 93.1 368.3 92.2 367.6 91.6 366.5 91.4 365.3 91.7 364.1 92.5 363.1 94.0 362.2 96.1 362.1 98.5 362.6 99.7 363.2 100.3 363.8 100.7 364.4 100.8 365.3 100.4 366.8 99.3 368.0 97.6 368.9 M96.4 371.0 94.6 370.9 92.8 370.4 91.3 369.6 90.1 368.6 89.2 367.1 88.8 365.6 88.9 363.8 89.7 360.8 89.7 360.2 89.4 359.6 88.6 359.0 83.8 356.8 80.8 354.7 77.9 351.5 74.9 346.7 74.0 344.9 73.8 343.1 74.8 338.3 76.0 335.3 77.2 333.4 78.7 331.9 80.5 330.9 82.6 330.3 84.4 330.3 86.5 330.6 92.5 333.1 93.4 333.0 94.3 332.6 97.3 329.6 99.1 327.3 100.0 325.7 102.2 320.6 104.2 317.6 105.6 316.1 107.2 314.7 110.8 312.5 114.7 311.2 118.9 310.8 122.5 311.2 125.8 312.4 128.8 314.4 131.3 317.0 133.1 320.0 134.4 323.6 134.9 327.5 134.7 331.7 133.8 335.9 132.2 339.8 130.2 343.1 127.6 345.9 123.2 349.4 119.5 352.7 117.4 354.0 115.6 354.7 113.8 354.8 112.0 354.3 107.2 351.9 100.9 347.9 99.4 347.4 98.5 347.6 97.7 348.8 96.1 352.9 94.1 356.9 94.0 358.1 94.5 358.7 95.7 359.3 98.8 360.2 101.2 360.7 102.7 360.8 104.2 360.4 107.2 358.7 109.3 357.8 111.7 357.1 113.5 356.9 115.0 357.3 116.5 358.3 117.4 359.6 117.7 360.8 117.5 361.7 116.8 362.6 115.9 363.3 114.4 363.9 112.0 364.4 106.9 364.4 105.4 364.7 104.5 365.3 102.2 368.3 100.9 369.5 98.8 370.6 96.4 371.0 M37.9 362.6 35.8 362.5 34.0 362.1 32.2 361.2 30.4 359.8 28.8 358.1 27.5 356.0 26.4 353.6 25.7 351.2 25.3 348.5 25.1 345.8 25.3 343.7 25.8 341.6 26.7 339.5 28.0 337.5 29.5 335.9 31.3 334.5 33.7 333.4 36.1 333.0 39.7 333.1 43.3 333.7 46.3 334.6 49.0 335.9 51.1 337.2 55.0 340.2 56.5 341.0 58.3 341.4 62.8 341.5 65.2 341.9 67.6 342.8 69.0 344.0 69.3 344.9 69.0 345.8 68.1 346.7 66.7 347.6 64.0 348.4 58.9 348.9 57.1 349.7 55.6 351.2 53.4 354.5 51.7 356.6 49.9 358.2 47.8 359.7 45.4 360.9 43.0 361.8 40.3 362.4 37.9 362.6 M97.9 372.2 95.5 372.4 93.1 372.0 91.0 371.2 89.0 369.8 87.9 368.3 87.2 366.8 86.9 365.3 86.7 362.0 86.1 360.5 85.2 359.6 81.7 357.1 79.9 355.6 77.8 353.4 74.2 348.6 73.0 347.6 72.1 347.3 70.9 347.5 66.1 349.2 60.1 350.1 58.3 350.7 56.6 352.1 53.8 356.0 51.4 358.5 48.4 360.7 45.4 362.1 42.1 363.2 38.5 363.7 35.8 363.7 33.1 362.9 30.7 361.4 28.6 359.3 26.8 356.6 25.5 353.3 24.6 349.7 24.3 345.8 24.7 342.8 25.7 339.8 26.6 338.0 27.7 336.5 29.2 335.0 30.7 333.9 32.5 333.0 34.3 332.4 36.1 332.1 38.2 332.1 43.0 332.7 47.2 334.0 50.2 335.4 55.3 338.9 57.4 339.8 59.2 340.2 64.9 340.5 70.0 341.6 71.2 341.5 72.1 340.8 72.7 339.9 74.3 335.3 75.7 332.8 77.5 330.8 79.6 329.5 82.3 328.7 85.0 328.8 87.1 329.2 91.1 330.8 92.5 331.1 93.7 331.0 95.2 330.0 97.0 328.4 98.4 326.6 101.3 320.3 103.2 317.3 105.8 314.6 109.0 312.4 112.9 310.7 115.0 310.2 117.4 309.9 121.3 310.0 123.4 310.5 125.2 311.1 128.5 313.0 131.2 315.5 133.5 318.8 134.9 322.4 135.7 326.3 135.6 330.8 134.9 335.0 133.4 339.5 131.6 342.8 129.4 345.5 123.7 350.6 118.8 355.4 118.5 356.0 118.5 356.6 119.6 359.3 119.8 360.8 119.5 362.0 118.6 363.3 117.1 364.3 115.0 365.1 112.9 365.5 108.4 366.0 106.9 366.4 105.7 367.1 103.3 369.5 101.8 370.7 100.0 371.6 97.9 372.2 M103.6 358.4 106.0 357.5 108.4 356.3 109.1 355.7 109.3 355.4 109.2 354.8 107.6 353.3 102.5 350.0 100.9 349.3 99.7 349.3 98.8 350.3 97.8 353.0 97.1 355.4 97.3 356.8 98.2 357.8 99.7 358.4 101.8 358.7 103.6 358.4" fill="none" stroke="#000" stroke-width="1.0" stroke-linejoin="round"/>
<clipPath id="cB2"><rect x="35.8" y="261.5" width="142.5" height="143.10000000000002"/></clipPath>
<path clip-path="url(#cB2)" d="M120.1 336.8 118.6 336.9 117.1 336.7 115.6 336.0 114.4 335.2 113.2 334.0 112.3 332.6 111.7 331.1 111.3 329.6 111.2 328.1 111.3 326.6 111.8 325.1 112.5 323.9 113.5 322.8 114.7 321.9 116.2 321.2 117.7 320.8 119.2 320.7 120.4 320.9 121.6 321.3 122.8 322.0 123.9 323.0 124.7 324.2 125.3 325.4 125.6 326.9 125.7 328.4 125.5 330.2 125.1 331.7 124.4 333.2 123.7 334.4 122.5 335.6 121.3 336.4 120.1 336.8 M120.4 339.2 118.6 339.4 116.8 339.1 115.0 338.4 113.2 337.2 111.8 335.9 110.6 334.1 109.7 332.0 109.2 329.9 109.1 327.8 109.3 326.0 109.9 324.2 110.9 322.7 112.3 321.2 113.8 320.1 115.6 319.3 117.4 318.9 119.2 318.8 121.0 319.0 122.5 319.6 124.0 320.5 125.3 321.8 126.3 323.3 127.0 324.8 127.4 326.6 127.5 328.7 127.3 330.8 126.7 332.9 125.9 334.7 124.7 336.5 123.4 337.7 121.9 338.7 120.4 339.2 M119.8 341.3 117.4 341.2 115.3 340.7 113.2 339.6 111.4 338.2 109.8 336.2 108.6 334.1 107.8 331.7 107.3 329.0 107.4 326.6 107.9 324.5 108.8 322.7 110.2 320.9 111.9 319.4 113.8 318.3 115.9 317.5 118.0 317.2 120.1 317.2 121.9 317.6 123.7 318.4 125.5 319.7 126.8 321.2 127.9 323.0 128.7 325.1 129.0 327.2 128.9 329.9 128.5 332.3 127.7 334.7 126.5 336.8 125.1 338.6 123.4 340.0 121.6 340.9 119.8 341.3 M121.0 342.9 118.6 343.1 115.9 342.7 113.5 341.7 111.4 340.3 109.6 338.6 107.9 336.2 106.7 333.5 106.0 330.5 105.8 327.8 106.1 325.4 106.8 323.3 108.1 321.1 109.6 319.4 111.7 317.8 114.1 316.6 116.8 315.9 119.2 315.7 121.3 316.0 123.4 316.7 125.5 318.0 127.3 319.7 128.6 321.5 129.6 323.6 130.2 326.0 130.3 328.7 130.0 331.7 129.3 334.4 128.2 336.8 126.8 338.9 125.1 340.7 123.1 342.1 121.0 342.9 M119.8 344.6 116.8 344.5 114.1 343.7 111.7 342.4 109.3 340.4 107.3 338.0 105.9 335.3 104.9 332.3 104.5 329.0 104.5 326.3 105.2 323.6 106.4 321.2 108.1 319.0 110.2 317.2 112.6 315.8 115.3 314.9 118.3 314.5 120.7 314.6 123.1 315.2 125.2 316.3 127.3 317.9 128.9 319.7 130.2 322.1 131.1 324.5 131.5 327.2 131.4 330.5 130.8 333.5 129.7 336.5 128.2 339.2 126.4 341.4 124.3 343.1 122.2 344.1 119.8 344.6 M121.3 345.8 118.3 346.1 115.3 345.6 112.6 344.5 109.9 342.8 107.5 340.4 105.7 337.7 104.3 334.7 103.4 331.1 103.2 327.8 103.5 325.1 104.4 322.4 106.0 319.7 108.1 317.4 110.5 315.6 113.5 314.2 116.5 313.5 119.5 313.3 121.9 313.7 124.3 314.5 126.7 315.9 128.8 317.9 130.5 320.3 131.7 323.0 132.4 325.7 132.5 328.7 132.2 332.3 131.3 335.6 129.8 338.9 128.2 341.3 126.1 343.4 123.7 345.0 121.3 345.8 M120.4 347.3 117.1 347.3 113.8 346.5 110.8 345.0 108.1 342.9 105.7 340.1 104.0 337.1 102.8 333.8 102.1 329.9 102.1 326.9 102.6 323.9 103.9 320.9 105.7 318.2 108.1 315.9 110.8 314.2 114.1 312.9 117.4 312.3 120.4 312.3 123.1 312.9 125.8 314.1 128.2 315.8 130.2 317.9 131.8 320.6 132.9 323.3 133.5 326.6 133.5 330.2 132.9 333.8 131.7 337.4 130.2 340.4 128.2 343.0 125.8 345.1 123.1 346.6 120.4 347.3" fill="none" stroke="#000" stroke-width="1.0" stroke-linejoin="round"/>
<rect x="35.8" y="261.5" width="142.5" height="143.10000000000002" fill="none" stroke="#111" stroke-width="1"/>
<polyline points="35.8,261.5 35.8,404.6 178.3,404.6" fill="none" stroke="#111" stroke-width="1.5"/>
<line x1="32.8" y1="374.5" x2="35.8" y2="374.5" stroke="#111" stroke-width="0.8"/>
<line x1="34.0" y1="364.0" x2="35.8" y2="364.0" stroke="#111" stroke-width="0.8"/>
<line x1="34.0" y1="357.9" x2="35.8" y2="357.9" stroke="#111" stroke-width="0.8"/>
<line x1="34.0" y1="353.5" x2="35.8" y2="353.5" stroke="#111" stroke-width="0.8"/>
<line x1="34.0" y1="350.2" x2="35.8" y2="350.2" stroke="#111" stroke-width="0.8"/>
<line x1="34.0" y1="347.4" x2="35.8" y2="347.4" stroke="#111" stroke-width="0.8"/>
<line x1="34.0" y1="345.1" x2="35.8" y2="345.1" stroke="#111" stroke-width="0.8"/>
<line x1="34.0" y1="343.1" x2="35.8" y2="343.1" stroke="#111" stroke-width="0.8"/>
<line x1="34.0" y1="341.3" x2="35.8" y2="341.3" stroke="#111" stroke-width="0.8"/>
<line x1="32.8" y1="339.7" x2="35.8" y2="339.7" stroke="#111" stroke-width="0.8"/>
<line x1="34.0" y1="329.9" x2="35.8" y2="329.9" stroke="#111" stroke-width="0.8"/>
<line x1="34.0" y1="324.1" x2="35.8" y2="324.1" stroke="#111" stroke-width="0.8"/>
<line x1="34.0" y1="320.0" x2="35.8" y2="320.0" stroke="#111" stroke-width="0.8"/>
<line x1="34.0" y1="316.8" x2="35.8" y2="316.8" stroke="#111" stroke-width="0.8"/>
<line x1="34.0" y1="314.3" x2="35.8" y2="314.3" stroke="#111" stroke-width="0.8"/>
<line x1="34.0" y1="312.1" x2="35.8" y2="312.1" stroke="#111" stroke-width="0.8"/>
<line x1="34.0" y1="310.2" x2="35.8" y2="310.2" stroke="#111" stroke-width="0.8"/>
<line x1="34.0" y1="308.5" x2="35.8" y2="308.5" stroke="#111" stroke-width="0.8"/>
<line x1="32.8" y1="307.0" x2="35.8" y2="307.0" stroke="#111" stroke-width="0.8"/>
<line x1="34.0" y1="297.4" x2="35.8" y2="297.4" stroke="#111" stroke-width="0.8"/>
<line x1="34.0" y1="291.7" x2="35.8" y2="291.7" stroke="#111" stroke-width="0.8"/>
<line x1="34.0" y1="287.7" x2="35.8" y2="287.7" stroke="#111" stroke-width="0.8"/>
<line x1="34.0" y1="284.6" x2="35.8" y2="284.6" stroke="#111" stroke-width="0.8"/>
<line x1="34.0" y1="282.1" x2="35.8" y2="282.1" stroke="#111" stroke-width="0.8"/>
<line x1="34.0" y1="280.0" x2="35.8" y2="280.0" stroke="#111" stroke-width="0.8"/>
<line x1="34.0" y1="278.1" x2="35.8" y2="278.1" stroke="#111" stroke-width="0.8"/>
<line x1="34.0" y1="276.5" x2="35.8" y2="276.5" stroke="#111" stroke-width="0.8"/>
<line x1="32.8" y1="275.0" x2="35.8" y2="275.0" stroke="#111" stroke-width="0.8"/>
<line x1="32.8" y1="389.8" x2="35.8" y2="389.8" stroke="#111" stroke-width="0.8"/>
<line x1="34.0" y1="384.8" x2="35.8" y2="384.8" stroke="#111" stroke-width="0.8"/>
<line x1="34.0" y1="379.7" x2="35.8" y2="379.7" stroke="#111" stroke-width="0.8"/>
<line x1="34.0" y1="395.9" x2="35.8" y2="395.9" stroke="#111" stroke-width="0.8"/>
<line x1="34.0" y1="402.0" x2="35.8" y2="402.0" stroke="#111" stroke-width="0.8"/>
<line x1="65.5" y1="404.6" x2="65.5" y2="407.6" stroke="#111" stroke-width="0.8"/>
<line x1="76.2" y1="404.6" x2="76.2" y2="406.4" stroke="#111" stroke-width="0.8"/>
<line x1="82.4" y1="404.6" x2="82.4" y2="406.4" stroke="#111" stroke-width="0.8"/>
<line x1="86.9" y1="404.6" x2="86.9" y2="406.4" stroke="#111" stroke-width="0.8"/>
<line x1="90.3" y1="404.6" x2="90.3" y2="406.4" stroke="#111" stroke-width="0.8"/>
<line x1="93.1" y1="404.6" x2="93.1" y2="406.4" stroke="#111" stroke-width="0.8"/>
<line x1="95.5" y1="404.6" x2="95.5" y2="406.4" stroke="#111" stroke-width="0.8"/>
<line x1="97.6" y1="404.6" x2="97.6" y2="406.4" stroke="#111" stroke-width="0.8"/>
<line x1="99.4" y1="404.6" x2="99.4" y2="406.4" stroke="#111" stroke-width="0.8"/>
<line x1="101.0" y1="404.6" x2="101.0" y2="407.6" stroke="#111" stroke-width="0.8"/>
<line x1="110.6" y1="404.6" x2="110.6" y2="406.4" stroke="#111" stroke-width="0.8"/>
<line x1="116.3" y1="404.6" x2="116.3" y2="406.4" stroke="#111" stroke-width="0.8"/>
<line x1="120.3" y1="404.6" x2="120.3" y2="406.4" stroke="#111" stroke-width="0.8"/>
<line x1="123.4" y1="404.6" x2="123.4" y2="406.4" stroke="#111" stroke-width="0.8"/>
<line x1="125.9" y1="404.6" x2="125.9" y2="406.4" stroke="#111" stroke-width="0.8"/>
<line x1="128.0" y1="404.6" x2="128.0" y2="406.4" stroke="#111" stroke-width="0.8"/>
<line x1="129.9" y1="404.6" x2="129.9" y2="406.4" stroke="#111" stroke-width="0.8"/>
<line x1="131.5" y1="404.6" x2="131.5" y2="406.4" stroke="#111" stroke-width="0.8"/>
<line x1="133.0" y1="404.6" x2="133.0" y2="407.6" stroke="#111" stroke-width="0.8"/>
<line x1="142.6" y1="404.6" x2="142.6" y2="406.4" stroke="#111" stroke-width="0.8"/>
<line x1="148.3" y1="404.6" x2="148.3" y2="406.4" stroke="#111" stroke-width="0.8"/>
<line x1="152.3" y1="404.6" x2="152.3" y2="406.4" stroke="#111" stroke-width="0.8"/>
<line x1="155.4" y1="404.6" x2="155.4" y2="406.4" stroke="#111" stroke-width="0.8"/>
<line x1="157.9" y1="404.6" x2="157.9" y2="406.4" stroke="#111" stroke-width="0.8"/>
<line x1="160.0" y1="404.6" x2="160.0" y2="406.4" stroke="#111" stroke-width="0.8"/>
<line x1="161.9" y1="404.6" x2="161.9" y2="406.4" stroke="#111" stroke-width="0.8"/>
<line x1="163.5" y1="404.6" x2="163.5" y2="406.4" stroke="#111" stroke-width="0.8"/>
<line x1="165.0" y1="404.6" x2="165.0" y2="407.6" stroke="#111" stroke-width="0.8"/>
<line x1="51.0" y1="404.6" x2="51.0" y2="407.6" stroke="#111" stroke-width="0.8"/>
<line x1="55.8" y1="404.6" x2="55.8" y2="406.4" stroke="#111" stroke-width="0.8"/>
<line x1="60.6" y1="404.6" x2="60.6" y2="406.4" stroke="#111" stroke-width="0.8"/>
<line x1="45.2" y1="404.6" x2="45.2" y2="406.4" stroke="#111" stroke-width="0.8"/>
<line x1="39.4" y1="404.6" x2="39.4" y2="406.4" stroke="#111" stroke-width="0.8"/>
<text x="30.0" y="392.2" font-size="6.6" text-anchor="end" font-weight="normal" class="s">0</text>
<text class="s" x="30.0" y="377.3" font-size="6.6" text-anchor="end">10<tspan dx="0.3" dy="-2.8" font-size="5.1">2</tspan></text>
<text class="s" x="30.0" y="342.5" font-size="6.6" text-anchor="end">10<tspan dx="0.3" dy="-2.8" font-size="5.1">3</tspan></text>
<text class="s" x="30.0" y="309.8" font-size="6.6" text-anchor="end">10<tspan dx="0.3" dy="-2.8" font-size="5.1">4</tspan></text>
<text class="s" x="30.0" y="277.8" font-size="6.6" text-anchor="end">10<tspan dx="0.3" dy="-2.8" font-size="5.1">5</tspan></text>
<text x="51.0" y="419.0" font-size="6.6" text-anchor="middle" font-weight="normal" class="s">0</text>
<text class="s" x="65.5" y="419.0" font-size="6.6" text-anchor="middle">10<tspan dx="0.3" dy="-2.8" font-size="5.1">2</tspan></text>
<text class="s" x="101.0" y="419.0" font-size="6.6" text-anchor="middle">10<tspan dx="0.3" dy="-2.8" font-size="5.1">3</tspan></text>
<text class="s" x="133.0" y="419.0" font-size="6.6" text-anchor="middle">10<tspan dx="0.3" dy="-2.8" font-size="5.1">4</tspan></text>
<text class="s" x="165.0" y="419.0" font-size="6.6" text-anchor="middle">10<tspan dx="0.3" dy="-2.8" font-size="5.1">5</tspan></text>
<line x1="115.5" y1="261.8" x2="143.3" y2="261.8" stroke="#111" stroke-width="2"/>
<line x1="115.5" y1="261.5" x2="115.5" y2="312.0" stroke="#111" stroke-width="1"/>
<line x1="115.5" y1="300.0" x2="96.5" y2="328.5" stroke="#111" stroke-width="1"/>
<line x1="35.8" y1="328.5" x2="96.5" y2="328.5" stroke="#111" stroke-width="1"/>
<line x1="96.5" y1="328.5" x2="129.5" y2="355.5" stroke="#111" stroke-width="1"/>
<line x1="134.5" y1="329.5" x2="178.3" y2="329.5" stroke="#111" stroke-width="1"/>
<polyline points="147.0,329.5 129.5,355.5 129.5,404.6" fill="none" stroke="#111" stroke-width="1"/>
<circle cx="138.4" cy="298.3" r="6.2" fill="none" stroke="#111" stroke-width="1"/>
<circle cx="138.4" cy="298.3" r="3.2" fill="none" stroke="#111" stroke-width="1"/>
<text x="81.0" y="302.5" font-size="6.6" text-anchor="middle" font-weight="normal" >HOEmedium</text>
<text x="81.0" y="310.5" font-size="6.6" text-anchor="middle" font-weight="normal" >35.7</text>
<text x="176.0" y="269.5" font-size="6.6" text-anchor="end" font-weight="normal" >HOEbright</text>
<text x="176.0" y="277.0" font-size="6.6" text-anchor="end" font-weight="normal" >3.57</text>
<text x="97.0" y="390.5" font-size="6.6" text-anchor="middle" font-weight="normal" >HOEneg</text>
<text x="97.0" y="398.0" font-size="6.6" text-anchor="middle" font-weight="normal" >60.7</text>
<clipPath id="cC2"><rect x="204.5" y="261.5" width="142.0" height="143.0"/></clipPath>
<path clip-path="url(#cC2)" d="M199.4 345.9 198.5 345.8 197.5 345.2 196.7 344.0 196.4 342.8 196.4 341.6 196.7 341.0 197.3 340.4 198.5 340.0 199.7 340.0 200.7 340.4 201.3 341.0 201.7 341.9 201.5 343.4 201.0 344.6 200.3 345.4 199.4 345.9 M200.0 350.0 198.8 350.2 197.9 350.0 196.1 349.0 194.6 347.0 193.7 344.3 193.4 341.6 194.0 340.1 195.5 338.6 197.6 337.8 200.0 337.7 202.1 338.4 203.6 339.6 204.2 340.4 204.5 341.3 204.6 342.5 204.3 344.3 203.4 347.0 202.7 348.1 201.8 349.1 200.0 350.0 M200.3 352.7 198.8 352.9 197.6 352.7 196.4 352.2 195.0 351.2 194.0 350.0 193.0 348.5 192.3 346.7 191.8 344.9 191.6 341.6 191.9 340.4 192.3 339.5 193.1 338.5 194.3 337.5 195.8 336.8 197.3 336.4 200.3 336.3 201.8 336.7 203.3 337.3 204.5 338.1 205.4 339.1 206.0 340.1 206.4 341.3 206.4 343.1 206.1 345.2 205.6 347.0 204.8 348.8 203.9 350.2 202.7 351.4 201.5 352.2 200.3 352.7 M200.6 354.8 198.8 355.0 197.3 354.8 195.8 354.2 194.3 353.1 192.9 351.5 191.8 349.7 191.0 347.6 190.4 345.5 190.1 341.6 190.5 340.1 191.1 338.9 192.0 337.7 193.4 336.6 195.2 335.8 197.0 335.3 198.8 335.1 200.6 335.2 202.4 335.6 203.9 336.2 205.4 337.2 206.5 338.3 207.3 339.5 207.8 341.0 207.9 343.1 207.6 345.5 206.9 347.9 206.0 350.0 204.9 351.8 203.6 353.2 202.1 354.2 200.6 354.8 M189.5 339.2 190.3 338.0 191.3 336.9 192.5 335.9 194.0 335.1 195.5 334.6 197.3 334.2 199.1 334.1 200.9 334.3 202.7 334.7 204.2 335.2 205.7 336.1 206.9 337.1 208.5 339.2 208.9 340.4 209.2 341.9 209.0 344.3 208.6 347.0 207.8 349.4 206.8 351.5 205.6 353.3 204.2 354.8 202.7 355.9 200.9 356.6 199.1 356.9 197.3 356.7 195.5 356.0 194.0 355.0 192.5 353.4 191.3 351.7 190.3 349.7 189.5 347.2 M189.5 337.3 190.6 336.2 191.9 335.2 194.9 333.9 198.5 333.3 202.1 333.6 205.4 334.8 206.9 335.8 208.1 336.8 209.0 338.0 209.7 339.2 210.1 340.4 210.3 341.9 210.1 344.6 209.7 347.3 208.9 350.0 207.9 352.1 206.8 353.9 205.4 355.6 203.9 356.9 202.1 357.9 200.3 358.4 198.5 358.5 196.7 358.2 194.9 357.4 193.4 356.3 191.9 354.8 190.6 353.0 189.5 350.9 M189.5 335.9 191.0 334.8 192.5 333.9 195.8 332.8 199.4 332.5 203.0 333.0 206.3 334.3 207.8 335.3 209.0 336.5 210.0 337.7 210.6 338.9 211.1 340.4 211.3 341.9 211.2 344.6 210.7 347.3 210.1 349.7 209.2 352.1 208.0 354.2 206.6 356.2 205.1 357.6 203.3 358.9 201.5 359.6 199.7 360.0 197.9 359.9 195.8 359.4 194.0 358.5 192.4 357.2 190.8 355.4 189.5 353.4 M189.5 334.9 192.5 333.1 194.3 332.4 196.4 331.9 200.3 331.8 203.9 332.5 207.2 333.9 208.7 335.0 209.9 336.2 210.8 337.4 211.6 338.9 212.1 340.4 212.2 341.9 212.1 344.6 211.7 347.6 211.0 350.3 210.0 352.7 208.9 354.8 207.5 356.9 205.7 358.7 203.9 360.0 202.1 360.9 200.0 361.3 197.9 361.3 196.1 360.9 194.3 360.1 192.5 358.9 191.0 357.4 189.5 355.5 M189.5 333.9 192.8 332.2 196.7 331.2 198.8 331.1 200.9 331.2 204.5 331.9 206.6 332.8 208.1 333.6 210.7 335.9 211.6 337.1 212.4 338.6 213.0 340.4 213.1 341.9 213.0 344.9 212.5 347.9 211.8 350.6 210.9 353.0 209.7 355.4 208.3 357.5 206.6 359.4 204.8 360.9 203.0 361.8 200.9 362.5 198.8 362.7 196.7 362.4 194.6 361.6 192.8 360.6 191.0 359.0 189.5 357.3 M189.5 333.1 191.3 332.1 193.1 331.4 197.0 330.5 199.1 330.4 201.5 330.6 205.4 331.5 207.5 332.5 209.0 333.4 211.5 335.6 212.5 337.1 213.3 338.6 213.7 340.1 213.9 341.9 213.8 345.2 213.3 348.2 212.6 351.2 211.5 353.9 210.3 356.3 208.9 358.4 207.2 360.3 205.4 361.8 203.3 363.0 201.2 363.7 199.1 363.9 197.0 363.7 194.9 363.0 193.1 362.1 191.3 360.8 189.5 358.9 M189.5 332.3 191.6 331.2 193.4 330.6 197.6 329.9 201.8 330.0 205.7 331.0 209.3 332.8 210.8 333.9 212.1 335.3 213.2 336.8 214.0 338.3 214.5 340.1 214.7 341.9 214.6 344.9 214.2 347.9 213.4 351.2 212.5 353.9 211.2 356.6 209.6 359.0 207.8 361.1 206.0 362.6 204.2 363.7 202.1 364.6 200.0 365.0 197.6 364.9 195.5 364.5 193.4 363.5 191.3 362.1 189.5 360.4 M189.5 331.6 193.4 330.0 195.8 329.5 197.9 329.3 202.4 329.5 206.6 330.7 208.4 331.5 210.2 332.6 211.7 333.9 213.0 335.3 214.0 336.8 214.9 338.6 215.3 340.4 215.5 341.9 215.3 345.2 214.9 348.5 214.0 351.8 213.1 354.5 211.8 357.2 210.3 359.6 208.5 361.7 206.6 363.4 204.5 364.7 202.4 365.6 200.3 366.1 197.9 366.1 195.8 365.7 193.7 364.8 191.6 363.6 189.5 361.7" fill="none" stroke="#000" stroke-width="1.0" stroke-linejoin="round"/>
<clipPath id="cC"><rect x="204.5" y="261.5" width="142.0" height="143.0"/></clipPath>
<path clip-path="url(#cC)" d="M286.4 330.2 285.5 330.3 284.9 329.6 284.8 328.4 285.2 326.9 286.1 325.1 286.7 324.4 287.6 323.9 288.8 323.9 289.4 324.3 290.0 325.1 290.1 325.7 290.0 326.6 289.4 327.6 288.2 329.0 287.3 329.8 286.4 330.2 M286.1 331.2 284.9 331.2 284.2 330.5 284.1 329.0 284.6 326.9 285.7 324.8 286.5 323.9 287.9 323.3 289.1 323.5 289.8 323.9 290.4 324.8 290.6 325.7 290.4 326.9 288.5 329.5 287.3 330.5 286.1 331.2 M285.5 332.0 284.3 331.9 283.7 331.4 283.5 330.8 283.5 329.0 284.3 326.6 285.5 324.4 286.4 323.5 287.9 322.9 289.4 323.1 290.3 323.8 290.9 324.8 291.0 326.0 290.7 327.2 289.7 328.7 288.2 330.4 286.7 331.5 285.5 332.0 M285.5 332.7 284.6 332.8 284.0 332.7 283.4 332.3 283.1 331.7 282.9 329.9 283.6 327.2 285.0 324.5 286.1 323.2 287.6 322.6 288.5 322.5 289.4 322.7 290.3 323.3 291.2 324.5 291.4 325.7 291.1 327.2 290.0 329.0 288.5 330.7 287.0 331.9 285.5 332.7 M284.6 333.5 283.7 333.5 283.1 333.1 282.7 332.6 282.4 331.7 282.6 329.3 283.5 326.6 285.0 323.9 286.1 322.8 287.9 322.1 289.7 322.4 290.8 323.3 291.5 324.5 291.7 326.0 291.4 327.5 289.7 329.9 288.0 331.7 286.1 333.0 284.6 333.5 M284.6 334.1 283.7 334.2 282.8 333.8 282.3 333.2 282.0 332.6 281.9 331.4 282.0 330.2 282.8 327.2 284.6 323.9 285.8 322.6 287.6 321.9 288.8 321.8 289.7 322.1 290.9 322.9 291.8 324.2 292.1 325.7 291.7 327.5 290.3 329.7 288.2 332.0 286.4 333.4 284.6 334.1 M284.3 334.7 283.4 334.8 282.5 334.5 281.9 333.9 281.5 332.9 281.4 331.7 281.6 330.2 282.6 326.9 284.4 323.6 285.8 322.2 286.7 321.8 287.9 321.5 289.1 321.6 290.0 321.8 291.2 322.7 292.1 324.2 292.4 325.7 292.0 327.5 290.5 329.9 288.4 332.3 286.4 333.8 284.3 334.7 M284.0 335.3 282.8 335.3 282.0 335.0 281.3 334.1 281.0 333.2 281.1 330.5 282.2 327.1 284.1 323.6 285.5 322.1 286.4 321.6 287.6 321.2 288.8 321.2 290.0 321.5 291.5 322.6 292.4 324.0 292.7 326.0 292.2 327.8 290.4 330.5 288.2 332.9 286.1 334.5 284.0 335.3 M283.7 335.9 282.5 335.9 281.7 335.6 281.0 334.8 280.6 333.8 280.5 332.3 280.7 330.8 282.0 326.9 283.9 323.3 285.5 321.7 286.7 321.1 287.9 320.9 289.1 320.9 290.3 321.3 291.8 322.4 292.7 323.9 293.0 325.7 292.5 327.8 290.6 330.7 288.2 333.3 285.8 335.1 283.7 335.9 M283.4 336.5 282.2 336.5 281.3 336.1 280.6 335.3 280.2 334.1 280.1 332.6 280.3 330.8 281.6 326.9 283.7 323.1 285.2 321.6 286.4 320.9 287.6 320.6 289.1 320.6 290.3 321.0 291.9 322.1 293.0 323.9 293.3 326.0 292.7 328.1 290.7 331.1 288.2 333.8 285.8 335.6 283.4 336.5 M282.5 337.1 281.3 336.8 280.5 336.2 280.0 335.3 279.7 333.8 279.8 332.0 280.1 330.2 281.7 326.0 283.7 322.7 284.5 321.8 285.5 321.1 286.7 320.5 288.2 320.3 289.4 320.4 290.6 320.8 292.3 322.1 293.3 323.9 293.5 325.1 293.5 326.3 292.9 328.4 290.3 332.0 287.6 334.7 284.9 336.5 283.7 336.9 282.5 337.1 M283.7 337.4 282.2 337.6 281.0 337.4 280.1 336.7 279.5 335.6 279.3 334.1 279.4 332.3 279.8 330.2 280.5 328.1 282.8 323.6 283.6 322.4 284.6 321.4 285.8 320.6 287.3 320.1 288.8 320.0 290.3 320.3 292.1 321.5 293.4 323.3 293.8 325.4 293.4 327.8 292.8 329.0 291.6 330.8 288.8 334.0 286.1 336.2 283.7 337.4 M283.1 338.0 281.6 338.2 280.4 337.8 279.5 336.8 279.0 335.6 278.9 334.1 279.1 332.0 279.6 329.9 280.4 327.5 283.0 322.7 284.8 320.9 286.1 320.2 287.6 319.8 289.1 319.8 290.6 320.2 292.4 321.4 293.7 323.3 294.0 324.5 294.1 325.7 293.6 328.1 291.5 331.4 288.5 334.7 285.8 336.8 283.1 338.0 M282.5 338.7 281.0 338.7 279.8 338.1 279.0 337.1 278.6 335.9 278.5 334.1 278.7 332.0 279.3 329.6 280.4 326.9 282.9 322.4 283.7 321.5 284.9 320.5 286.4 319.8 287.9 319.5 289.4 319.5 290.9 320.0 291.9 320.6 292.9 321.5 294.1 323.6 294.3 326.0 293.7 328.4 291.4 332.0 288.2 335.4 285.2 337.6 283.7 338.3 282.5 338.7 M281.9 339.2 280.4 339.1 279.2 338.4 278.4 337.1 278.1 335.6 278.1 333.5 278.5 331.4 279.2 329.0 280.4 326.3 282.8 322.1 283.7 321.1 284.9 320.2 286.4 319.5 288.2 319.2 289.7 319.3 291.2 319.8 292.4 320.6 293.3 321.5 294.3 323.6 294.6 324.8 294.6 326.3 293.9 328.7 291.2 332.6 287.9 336.1 286.1 337.5 284.6 338.4 283.1 339.0 281.9 339.2 M282.8 339.5 281.3 339.8 279.8 339.5 278.6 338.6 278.0 337.4 277.7 335.6 277.8 333.5 278.2 331.1 279.2 328.4 281.7 323.3 282.8 321.7 284.0 320.5 285.5 319.6 287.3 319.0 289.1 318.9 290.9 319.4 292.1 320.0 293.0 320.8 293.8 321.8 294.4 323.0 294.8 324.2 294.9 325.7 294.7 327.2 294.3 328.4 293.7 329.6 292.0 332.0 288.8 335.7 285.8 338.1 284.3 338.9 282.8 339.5 M282.2 340.2 280.7 340.3 279.2 339.9 278.1 338.9 277.4 337.4 277.2 335.6 277.4 333.2 278.1 330.5 279.1 327.8 280.5 324.8 282.2 322.1 283.1 320.9 284.2 320.0 285.8 319.1 287.6 318.7 289.4 318.7 291.2 319.2 292.4 319.9 293.3 320.7 294.1 321.8 294.7 323.0 295.0 324.2 295.2 325.7 295.0 327.2 294.5 328.7 291.8 332.7 288.5 336.3 285.2 338.9 283.7 339.7 282.2 340.2 M281.9 340.7 280.1 340.8 278.8 340.4 277.7 339.4 277.0 337.7 276.8 335.6 277.1 333.2 277.8 330.5 278.8 327.8 280.2 324.8 281.8 322.1 282.8 320.9 284.0 319.8 285.8 318.8 287.6 318.4 289.4 318.4 291.2 318.9 292.4 319.5 293.6 320.6 294.5 321.8 295.0 323.0 295.3 324.2 295.4 325.7 295.2 327.2 294.8 328.7 293.9 330.2 292.1 332.8 288.5 336.7 285.2 339.3 283.4 340.2 281.9 340.7 M281.3 341.3 279.5 341.3 278.1 340.7 277.1 339.5 276.5 337.7 276.4 335.6 276.8 332.9 277.5 330.2 278.7 327.2 281.7 321.8 282.8 320.5 284.1 319.4 286.0 318.5 287.9 318.1 289.7 318.2 291.5 318.7 292.7 319.4 293.9 320.5 294.8 321.8 295.3 323.0 295.6 324.5 295.7 326.0 295.5 327.5 294.9 329.0 293.9 330.8 291.9 333.5 288.2 337.4 284.6 340.1 282.8 340.9 281.3 341.3 M280.7 341.9 278.9 341.8 277.5 341.0 276.5 339.6 276.0 337.7 276.0 335.3 276.5 332.6 277.4 329.6 278.7 326.6 281.6 321.5 282.8 320.1 284.3 319.0 286.1 318.2 288.2 317.8 290.0 317.9 291.8 318.5 293.0 319.3 294.1 320.3 295.0 321.5 295.6 323.0 295.9 324.5 295.9 326.3 295.7 327.8 295.1 329.3 293.8 331.4 291.8 334.0 287.9 338.1 285.8 339.8 284.0 340.8 282.2 341.6 280.7 341.9 M280.1 342.5 278.3 342.3 277.1 341.5 276.1 340.1 275.6 338.0 275.6 335.6 276.1 332.9 277.0 329.9 278.4 326.6 281.5 321.2 282.5 320.0 284.0 318.8 285.8 318.0 287.9 317.5 290.0 317.6 291.8 318.2 293.0 318.9 294.2 320.0 295.1 321.2 295.8 322.7 296.2 324.2 296.2 326.0 295.9 327.8 295.4 329.3 294.1 331.4 292.1 334.1 290.0 336.5 287.9 338.5 285.8 340.2 283.7 341.4 281.9 342.2 280.1 342.5 M281.3 342.8 279.2 343.1 277.7 342.7 276.3 341.6 275.5 340.1 275.1 338.0 275.2 335.3 275.9 332.3 277.0 329.0 278.5 325.7 280.4 322.4 281.6 320.6 283.1 319.1 285.2 317.9 287.3 317.3 289.4 317.2 291.5 317.7 293.0 318.5 294.2 319.5 295.3 320.9 296.0 322.4 296.4 323.9 296.5 325.7 296.3 327.5 295.8 329.0 295.0 330.5 292.9 333.5 290.9 336.0 288.8 338.1 286.7 339.9 284.9 341.2 283.1 342.2 281.3 342.8 M281.0 343.4 278.9 343.7 277.1 343.2 275.7 341.9 274.9 340.1 274.7 337.7 274.9 335.0 275.7 331.7 276.9 328.4 278.5 325.1 280.6 321.5 281.7 320.0 283.1 318.8 285.2 317.6 287.3 317.0 289.7 317.0 291.8 317.5 293.3 318.4 294.5 319.4 295.4 320.6 296.2 322.1 296.7 323.6 296.8 325.4 296.7 327.2 296.1 329.0 295.2 330.8 293.1 333.8 289.1 338.3 287.0 340.2 284.9 341.7 282.8 342.8 281.0 343.4 M280.7 344.0 278.6 344.3 276.8 343.8 275.3 342.5 274.5 340.7 274.2 338.3 274.4 335.6 275.2 332.3 276.3 329.0 277.8 325.7 279.9 322.1 281.3 320.0 282.8 318.6 284.9 317.4 287.3 316.7 289.7 316.6 291.8 317.2 293.3 318.0 294.7 319.1 295.8 320.6 296.5 322.1 297.0 323.9 297.1 325.7 296.9 327.5 296.3 329.3 295.3 331.1 293.2 334.1 291.0 336.8 288.8 339.0 286.7 340.8 284.6 342.3 282.5 343.4 280.7 344.0 M280.4 344.7 278.0 344.8 276.2 344.3 274.9 343.1 274.0 341.0 273.7 338.6 274.0 335.6 274.8 332.3 276.1 328.7 277.8 325.1 279.9 321.5 281.2 319.7 282.8 318.2 284.9 317.0 287.3 316.4 289.7 316.3 292.1 317.0 293.8 317.9 295.1 319.1 296.2 320.6 296.9 322.1 297.3 323.9 297.4 325.7 297.2 327.5 296.7 329.3 295.7 331.1 293.4 334.4 291.2 337.0 288.8 339.5 286.4 341.5 284.3 343.0 282.2 344.1 280.4 344.7 M278.6 345.5 276.5 345.2 275.0 344.3 273.8 342.5 273.3 340.1 273.3 337.1 273.9 333.8 275.1 330.2 276.8 326.3 278.4 323.3 280.3 320.3 281.6 318.8 283.4 317.5 285.8 316.4 288.2 315.9 290.6 316.1 292.7 316.9 294.2 317.8 295.5 319.1 296.6 320.6 297.3 322.4 297.7 324.2 297.7 326.3 297.3 328.4 296.6 330.2 294.7 333.2 292.4 336.1 290.0 338.8 287.6 341.1 285.2 342.9 282.8 344.3 280.7 345.1 278.6 345.5 M278.9 346.1 276.8 346.1 274.9 345.2 273.6 343.7 272.8 341.3 272.7 338.3 273.2 335.0 274.3 331.4 276.0 327.2 277.9 323.6 279.9 320.3 281.3 318.7 283.1 317.3 285.5 316.1 287.9 315.6 290.3 315.7 292.7 316.5 294.2 317.4 295.7 318.8 296.8 320.3 297.6 322.1 298.0 323.9 298.1 326.0 297.7 328.1 297.1 329.9 295.5 332.6 293.0 335.9 290.6 338.7 288.2 341.0 285.8 343.0 283.4 344.5 281.0 345.6 278.9 346.1 M279.2 346.7 276.8 346.8 275.6 346.5 274.7 346.1 273.8 345.3 273.2 344.5 272.3 342.2 272.1 339.5 272.5 336.2 273.4 332.6 275.1 328.4 277.0 324.5 279.5 320.3 281.0 318.5 282.5 317.2 284.9 316.0 287.6 315.3 290.3 315.4 292.7 316.1 294.5 317.1 296.0 318.5 297.0 320.0 297.9 321.8 298.3 323.6 298.4 325.7 298.2 327.8 297.5 329.9 296.1 332.3 293.5 335.9 290.9 338.9 288.5 341.3 286.1 343.3 283.7 344.9 281.3 346.1 279.2 346.7 M279.2 347.4 276.8 347.6 274.6 347.0 273.7 346.4 272.9 345.5 271.9 343.4 271.5 340.7 271.8 337.4 272.7 333.5 274.2 329.3 276.4 324.8 279.1 320.3 280.5 318.5 282.2 317.0 284.6 315.7 287.3 315.0 290.0 314.9 292.7 315.7 294.5 316.7 296.0 318.0 297.3 319.7 298.2 321.5 298.7 323.6 298.8 325.7 298.5 327.8 297.8 329.9 296.7 332.0 293.9 335.9 291.4 338.9 288.8 341.5 286.1 343.8 283.7 345.5 281.3 346.7 279.2 347.4 M278.3 348.2 276.8 348.4 275.6 348.2 274.4 347.9 273.5 347.3 272.0 345.6 271.2 343.4 270.9 340.4 271.3 336.8 272.4 332.9 274.2 328.4 276.3 324.2 278.8 320.0 280.4 318.1 282.2 316.5 284.9 315.1 287.6 314.5 290.3 314.6 293.0 315.4 294.8 316.4 296.5 317.9 297.8 319.7 298.6 321.5 299.1 323.6 299.2 325.7 298.8 328.1 298.1 330.2 296.8 332.6 294.0 336.5 291.2 339.7 288.5 342.4 285.8 344.6 283.1 346.4 280.7 347.6 278.3 348.2 M277.4 349.1 275.9 349.2 274.7 349.0 273.5 348.5 272.6 347.9 271.2 346.1 270.4 343.4 270.3 340.1 270.8 336.5 272.1 332.3 274.0 327.8 276.3 323.3 278.7 319.4 280.3 317.6 282.2 316.1 284.9 314.7 287.6 314.1 290.6 314.2 293.3 315.0 295.1 316.1 296.8 317.6 298.1 319.4 299.0 321.5 299.5 323.6 299.6 326.0 299.2 328.4 298.4 330.5 296.8 333.2 293.9 337.2 291.2 340.4 288.2 343.3 285.2 345.7 282.5 347.4 279.8 348.6 277.4 349.1 M277.1 350.0 274.4 349.9 272.3 348.9 271.4 348.1 270.6 347.0 269.7 344.3 269.5 341.0 270.0 337.4 271.2 333.2 273.3 328.1 275.5 323.9 278.2 319.4 280.0 317.3 281.9 315.7 284.6 314.3 287.6 313.6 290.6 313.7 293.6 314.6 295.5 315.8 297.2 317.4 298.6 319.4 299.5 321.5 300.0 323.9 300.0 326.3 299.6 328.7 298.8 330.8 297.0 333.8 294.1 337.7 291.2 341.0 288.2 344.0 285.2 346.4 282.5 348.1 279.8 349.3 277.1 350.0 M277.1 350.9 275.6 351.0 274.1 350.9 272.9 350.6 271.8 350.0 270.8 349.1 270.1 348.2 269.4 347.0 269.0 345.5 268.6 342.2 269.1 338.3 270.3 334.1 272.2 329.3 274.6 324.5 277.6 319.4 279.3 317.3 281.3 315.6 284.3 313.9 287.3 313.2 290.6 313.2 293.6 314.1 295.6 315.2 297.3 316.7 298.8 318.8 299.8 320.9 300.4 323.3 300.5 325.7 300.1 328.4 299.3 330.8 297.7 333.5 294.7 337.7 291.6 341.3 288.5 344.4 285.5 346.9 282.5 348.9 279.8 350.1 277.1 350.9 M275.3 352.1 273.8 352.0 272.6 351.8 271.4 351.2 270.2 350.3 269.3 349.2 268.6 347.9 267.8 344.9 267.8 341.3 268.5 337.4 270.0 332.9 272.4 327.5 274.8 323.0 277.6 318.5 279.5 316.4 281.6 314.7 284.6 313.3 287.9 312.6 291.2 312.7 294.2 313.7 296.3 315.0 298.1 316.8 299.5 318.8 300.5 321.2 301.0 323.6 301.0 326.3 300.6 328.7 299.6 331.4 297.4 335.0 294.2 339.2 290.9 342.9 287.6 346.0 284.3 348.6 281.0 350.5 278.0 351.7 275.3 352.1 M275.0 353.3 273.5 353.3 272.0 353.0 270.8 352.5 269.6 351.7 268.6 350.6 267.8 349.4 267.2 347.9 266.7 346.1 266.6 342.5 267.3 338.3 268.8 333.8 271.2 328.4 273.9 323.3 277.1 318.2 278.9 316.1 281.3 314.2 284.6 312.6 287.9 311.9 291.2 312.1 294.5 313.2 296.8 314.6 298.6 316.4 300.0 318.5 301.1 320.9 301.6 323.6 301.6 326.3 301.1 329.0 300.1 331.7 297.7 335.6 294.3 340.1 290.9 343.8 287.6 346.9 284.3 349.5 281.0 351.5 277.7 352.8 275.0 353.3 M275.9 354.5 274.1 354.7 272.6 354.7 271.1 354.4 269.6 353.7 268.4 352.9 267.4 351.8 266.6 350.6 265.9 349.1 265.2 345.8 265.3 341.9 266.2 338.0 268.2 332.9 271.3 326.6 274.9 320.3 277.1 317.0 279.8 314.4 283.1 312.4 284.9 311.8 287.0 311.3 289.1 311.2 290.9 311.3 292.7 311.7 294.5 312.3 296.9 313.8 298.8 315.5 300.4 317.6 301.6 320.3 302.3 323.0 302.4 325.7 301.9 328.7 301.0 331.4 299.1 334.7 295.7 339.5 292.3 343.4 288.8 346.9 285.5 349.7 282.2 351.9 278.9 353.6 275.9 354.5 M274.7 356.3 272.9 356.5 271.4 356.4 268.7 355.6 267.5 354.8 266.3 353.7 265.3 352.4 264.5 350.9 263.5 347.6 263.3 344.0 264.0 340.1 265.5 335.9 269.2 328.4 273.3 321.2 276.3 316.7 278.9 314.0 280.7 312.7 282.5 311.7 284.6 310.9 286.7 310.4 288.8 310.3 290.9 310.4 293.0 310.8 294.8 311.5 297.2 312.8 299.5 314.9 301.3 317.3 302.5 320.0 303.1 322.7 303.2 325.7 302.8 328.7 301.8 331.7 299.8 335.3 296.1 340.4 292.5 344.6 288.8 348.3 285.2 351.3 281.3 353.8 277.7 355.5 274.7 356.3 M272.9 358.7 269.6 358.6 268.1 358.2 266.6 357.5 264.2 355.6 262.1 352.7 260.7 349.4 260.1 345.8 260.1 344.0 260.4 341.9 261.6 338.3 274.2 317.6 276.0 315.2 278.3 313.0 280.1 311.7 282.2 310.6 284.6 309.7 286.7 309.3 289.1 309.1 291.5 309.3 293.6 309.7 295.7 310.5 298.4 312.2 300.6 314.3 302.5 317.0 303.6 319.7 304.3 323.0 304.4 326.3 303.8 329.6 302.7 332.6 300.1 336.8 295.9 342.5 291.9 347.0 287.9 350.8 283.7 354.1 279.8 356.5 276.2 358.0 272.9 358.7 M270.5 361.4 268.4 361.3 266.6 360.8 264.8 360.1 263.3 359.1 260.0 356.0 255.2 350.0 254.2 348.2 253.7 346.1 253.9 340.7 253.5 336.8 253.7 336.0 254.7 335.3 257.9 334.5 259.7 333.9 261.5 332.8 263.0 331.5 266.0 327.8 274.3 315.2 276.8 312.6 279.5 310.5 281.3 309.6 283.4 308.7 285.5 308.1 287.9 307.8 290.3 307.7 292.4 308.0 294.5 308.6 296.6 309.4 299.5 311.3 301.9 313.7 303.7 316.4 305.0 319.7 305.7 323.0 305.7 326.6 305.0 330.2 303.7 333.5 300.7 338.3 296.1 344.3 291.5 349.4 287.0 353.6 282.8 356.7 278.3 359.3 274.1 360.9 270.5 361.4 M269.9 363.8 268.1 363.8 266.3 363.6 264.5 363.1 262.7 362.2 260.6 360.9 255.8 357.2 250.9 354.2 248.9 352.4 247.5 350.3 247.0 348.2 247.0 346.1 247.7 341.6 247.3 339.5 246.0 337.4 242.5 334.1 241.2 332.6 240.6 331.4 240.8 330.2 241.4 329.6 242.1 329.3 244.7 328.9 247.7 329.2 256.1 330.6 258.5 330.6 260.3 330.1 262.7 328.6 265.1 326.1 267.8 322.5 272.8 315.2 274.2 313.4 276.5 311.2 279.2 309.3 281.3 308.2 283.7 307.3 286.1 306.7 288.2 306.5 290.3 306.5 292.7 306.8 294.8 307.3 296.9 308.1 299.9 310.0 302.6 312.5 304.7 315.5 306.1 318.8 306.9 322.7 306.9 326.3 306.3 329.9 304.9 333.8 303.7 335.9 301.5 339.2 297.0 345.2 292.4 350.4 287.6 354.9 282.8 358.6 278.3 361.3 273.8 363.1 269.9 363.8 M270.2 365.9 268.1 366.1 266.3 366.0 264.5 365.7 262.4 365.0 260.3 364.0 254.9 360.8 247.7 357.6 245.9 356.5 244.4 355.1 242.9 352.7 242.3 351.2 242.1 349.7 242.2 346.7 243.4 341.6 243.2 339.5 241.9 337.4 238.3 333.8 236.8 332.0 236.1 330.2 236.3 328.7 237.0 327.8 238.1 327.2 239.6 326.8 241.4 326.6 245.3 326.7 254.9 328.1 257.6 328.1 259.7 327.6 262.1 326.3 264.2 324.5 266.9 321.3 271.8 314.6 273.5 312.5 276.2 310.0 279.5 307.8 283.7 306.1 286.1 305.5 288.5 305.3 292.7 305.5 294.8 306.0 297.2 306.9 300.2 308.7 303.2 311.4 305.5 314.6 307.0 317.9 307.9 321.5 308.1 325.7 307.5 329.9 306.1 333.8 304.9 336.2 303.1 338.9 298.2 345.5 293.6 350.9 288.5 355.9 283.7 359.8 278.9 362.8 274.4 364.9 270.2 365.9 M269.6 368.0 267.5 368.3 265.4 368.2 263.3 367.9 261.5 367.3 253.7 363.6 245.3 360.6 242.9 359.2 241.0 357.5 239.8 356.0 238.9 354.2 238.4 352.4 238.1 350.6 238.3 347.6 239.9 341.6 239.9 339.5 239.6 338.6 238.8 337.4 234.9 333.2 233.6 331.4 232.9 329.6 232.8 328.7 233.0 327.8 233.9 326.6 235.1 325.8 236.9 325.2 239.0 324.9 243.5 325.0 253.7 326.2 256.4 326.1 258.8 325.5 261.5 324.2 263.9 322.4 266.6 319.5 271.3 313.4 273.2 311.2 276.2 308.6 279.5 306.6 281.9 305.5 284.0 304.8 286.4 304.3 288.5 304.1 290.9 304.2 293.3 304.5 295.7 305.1 297.5 305.8 301.1 307.9 303.9 310.4 306.3 313.7 308.1 317.6 309.1 321.8 309.2 326.0 308.5 330.2 307.2 334.1 306.1 336.2 304.2 339.2 299.2 346.1 294.3 351.8 289.1 357.0 284.0 361.2 278.9 364.5 274.4 366.7 272.0 367.5 269.6 368.0" fill="none" stroke="#000" stroke-width="1.0" stroke-linejoin="round"/>
<rect x="204.5" y="261.5" width="142.0" height="143.0" fill="none" stroke="#111" stroke-width="1"/>
<polyline points="204.5,261.5 204.5,404.5 346.5,404.5" fill="none" stroke="#111" stroke-width="1.5"/>
<line x1="201.5" y1="373.5" x2="204.5" y2="373.5" stroke="#111" stroke-width="0.8"/>
<line x1="202.7" y1="363.2" x2="204.5" y2="363.2" stroke="#111" stroke-width="0.8"/>
<line x1="202.7" y1="357.2" x2="204.5" y2="357.2" stroke="#111" stroke-width="0.8"/>
<line x1="202.7" y1="352.9" x2="204.5" y2="352.9" stroke="#111" stroke-width="0.8"/>
<line x1="202.7" y1="349.6" x2="204.5" y2="349.6" stroke="#111" stroke-width="0.8"/>
<line x1="202.7" y1="346.9" x2="204.5" y2="346.9" stroke="#111" stroke-width="0.8"/>
<line x1="202.7" y1="344.6" x2="204.5" y2="344.6" stroke="#111" stroke-width="0.8"/>
<line x1="202.7" y1="342.6" x2="204.5" y2="342.6" stroke="#111" stroke-width="0.8"/>
<line x1="202.7" y1="340.9" x2="204.5" y2="340.9" stroke="#111" stroke-width="0.8"/>
<line x1="201.5" y1="339.3" x2="204.5" y2="339.3" stroke="#111" stroke-width="0.8"/>
<line x1="202.7" y1="329.3" x2="204.5" y2="329.3" stroke="#111" stroke-width="0.8"/>
<line x1="202.7" y1="323.4" x2="204.5" y2="323.4" stroke="#111" stroke-width="0.8"/>
<line x1="202.7" y1="319.3" x2="204.5" y2="319.3" stroke="#111" stroke-width="0.8"/>
<line x1="202.7" y1="316.0" x2="204.5" y2="316.0" stroke="#111" stroke-width="0.8"/>
<line x1="202.7" y1="313.4" x2="204.5" y2="313.4" stroke="#111" stroke-width="0.8"/>
<line x1="202.7" y1="311.2" x2="204.5" y2="311.2" stroke="#111" stroke-width="0.8"/>
<line x1="202.7" y1="309.2" x2="204.5" y2="309.2" stroke="#111" stroke-width="0.8"/>
<line x1="202.7" y1="307.5" x2="204.5" y2="307.5" stroke="#111" stroke-width="0.8"/>
<line x1="201.5" y1="306.0" x2="204.5" y2="306.0" stroke="#111" stroke-width="0.8"/>
<line x1="202.7" y1="296.5" x2="204.5" y2="296.5" stroke="#111" stroke-width="0.8"/>
<line x1="202.7" y1="291.0" x2="204.5" y2="291.0" stroke="#111" stroke-width="0.8"/>
<line x1="202.7" y1="287.0" x2="204.5" y2="287.0" stroke="#111" stroke-width="0.8"/>
<line x1="202.7" y1="284.0" x2="204.5" y2="284.0" stroke="#111" stroke-width="0.8"/>
<line x1="202.7" y1="281.5" x2="204.5" y2="281.5" stroke="#111" stroke-width="0.8"/>
<line x1="202.7" y1="279.4" x2="204.5" y2="279.4" stroke="#111" stroke-width="0.8"/>
<line x1="202.7" y1="277.6" x2="204.5" y2="277.6" stroke="#111" stroke-width="0.8"/>
<line x1="202.7" y1="275.9" x2="204.5" y2="275.9" stroke="#111" stroke-width="0.8"/>
<line x1="201.5" y1="274.5" x2="204.5" y2="274.5" stroke="#111" stroke-width="0.8"/>
<line x1="201.5" y1="389.5" x2="204.5" y2="389.5" stroke="#111" stroke-width="0.8"/>
<line x1="202.7" y1="384.2" x2="204.5" y2="384.2" stroke="#111" stroke-width="0.8"/>
<line x1="202.7" y1="378.9" x2="204.5" y2="378.9" stroke="#111" stroke-width="0.8"/>
<line x1="202.7" y1="395.9" x2="204.5" y2="395.9" stroke="#111" stroke-width="0.8"/>
<line x1="202.7" y1="402.3" x2="204.5" y2="402.3" stroke="#111" stroke-width="0.8"/>
<line x1="234.0" y1="404.5" x2="234.0" y2="407.5" stroke="#111" stroke-width="0.8"/>
<line x1="244.4" y1="404.5" x2="244.4" y2="406.3" stroke="#111" stroke-width="0.8"/>
<line x1="250.5" y1="404.5" x2="250.5" y2="406.3" stroke="#111" stroke-width="0.8"/>
<line x1="254.8" y1="404.5" x2="254.8" y2="406.3" stroke="#111" stroke-width="0.8"/>
<line x1="258.1" y1="404.5" x2="258.1" y2="406.3" stroke="#111" stroke-width="0.8"/>
<line x1="260.8" y1="404.5" x2="260.8" y2="406.3" stroke="#111" stroke-width="0.8"/>
<line x1="263.2" y1="404.5" x2="263.2" y2="406.3" stroke="#111" stroke-width="0.8"/>
<line x1="265.2" y1="404.5" x2="265.2" y2="406.3" stroke="#111" stroke-width="0.8"/>
<line x1="266.9" y1="404.5" x2="266.9" y2="406.3" stroke="#111" stroke-width="0.8"/>
<line x1="268.5" y1="404.5" x2="268.5" y2="407.5" stroke="#111" stroke-width="0.8"/>
<line x1="278.3" y1="404.5" x2="278.3" y2="406.3" stroke="#111" stroke-width="0.8"/>
<line x1="284.0" y1="404.5" x2="284.0" y2="406.3" stroke="#111" stroke-width="0.8"/>
<line x1="288.1" y1="404.5" x2="288.1" y2="406.3" stroke="#111" stroke-width="0.8"/>
<line x1="291.2" y1="404.5" x2="291.2" y2="406.3" stroke="#111" stroke-width="0.8"/>
<line x1="293.8" y1="404.5" x2="293.8" y2="406.3" stroke="#111" stroke-width="0.8"/>
<line x1="296.0" y1="404.5" x2="296.0" y2="406.3" stroke="#111" stroke-width="0.8"/>
<line x1="297.9" y1="404.5" x2="297.9" y2="406.3" stroke="#111" stroke-width="0.8"/>
<line x1="299.5" y1="404.5" x2="299.5" y2="406.3" stroke="#111" stroke-width="0.8"/>
<line x1="301.0" y1="404.5" x2="301.0" y2="407.5" stroke="#111" stroke-width="0.8"/>
<line x1="310.9" y1="404.5" x2="310.9" y2="406.3" stroke="#111" stroke-width="0.8"/>
<line x1="316.7" y1="404.5" x2="316.7" y2="406.3" stroke="#111" stroke-width="0.8"/>
<line x1="320.9" y1="404.5" x2="320.9" y2="406.3" stroke="#111" stroke-width="0.8"/>
<line x1="324.1" y1="404.5" x2="324.1" y2="406.3" stroke="#111" stroke-width="0.8"/>
<line x1="326.7" y1="404.5" x2="326.7" y2="406.3" stroke="#111" stroke-width="0.8"/>
<line x1="328.9" y1="404.5" x2="328.9" y2="406.3" stroke="#111" stroke-width="0.8"/>
<line x1="330.8" y1="404.5" x2="330.8" y2="406.3" stroke="#111" stroke-width="0.8"/>
<line x1="332.5" y1="404.5" x2="332.5" y2="406.3" stroke="#111" stroke-width="0.8"/>
<line x1="334.0" y1="404.5" x2="334.0" y2="407.5" stroke="#111" stroke-width="0.8"/>
<line x1="220.0" y1="404.5" x2="220.0" y2="407.5" stroke="#111" stroke-width="0.8"/>
<line x1="224.6" y1="404.5" x2="224.6" y2="406.3" stroke="#111" stroke-width="0.8"/>
<line x1="229.2" y1="404.5" x2="229.2" y2="406.3" stroke="#111" stroke-width="0.8"/>
<line x1="214.4" y1="404.5" x2="214.4" y2="406.3" stroke="#111" stroke-width="0.8"/>
<line x1="208.8" y1="404.5" x2="208.8" y2="406.3" stroke="#111" stroke-width="0.8"/>
<text x="198.7" y="391.9" font-size="6.6" text-anchor="end" font-weight="normal" class="s">0</text>
<text class="s" x="198.7" y="376.3" font-size="6.6" text-anchor="end">10<tspan dx="0.3" dy="-2.8" font-size="5.1">2</tspan></text>
<text class="s" x="198.7" y="342.1" font-size="6.6" text-anchor="end">10<tspan dx="0.3" dy="-2.8" font-size="5.1">3</tspan></text>
<text class="s" x="198.7" y="308.8" font-size="6.6" text-anchor="end">10<tspan dx="0.3" dy="-2.8" font-size="5.1">4</tspan></text>
<text class="s" x="198.7" y="277.3" font-size="6.6" text-anchor="end">10<tspan dx="0.3" dy="-2.8" font-size="5.1">5</tspan></text>
<text x="220.0" y="419.0" font-size="6.6" text-anchor="middle" font-weight="normal" class="s">0</text>
<text class="s" x="234.0" y="419.0" font-size="6.6" text-anchor="middle">10<tspan dx="0.3" dy="-2.8" font-size="5.1">2</tspan></text>
<text class="s" x="268.5" y="419.0" font-size="6.6" text-anchor="middle">10<tspan dx="0.3" dy="-2.8" font-size="5.1">3</tspan></text>
<text class="s" x="301.0" y="419.0" font-size="6.6" text-anchor="middle">10<tspan dx="0.3" dy="-2.8" font-size="5.1">4</tspan></text>
<text class="s" x="334.0" y="419.0" font-size="6.6" text-anchor="middle">10<tspan dx="0.3" dy="-2.8" font-size="5.1">5</tspan></text>
<line x1="284.5" y1="261.8" x2="311.3" y2="261.8" stroke="#111" stroke-width="2"/>
<line x1="284.5" y1="261.5" x2="284.5" y2="312.0" stroke="#111" stroke-width="1"/>
<line x1="284.5" y1="300.0" x2="265.5" y2="328.5" stroke="#111" stroke-width="1"/>
<line x1="204.5" y1="328.5" x2="265.5" y2="328.5" stroke="#111" stroke-width="1"/>
<line x1="265.5" y1="328.5" x2="298.5" y2="355.5" stroke="#111" stroke-width="1"/>
<line x1="303.5" y1="329.5" x2="346.5" y2="329.5" stroke="#111" stroke-width="1"/>
<polyline points="316.0,329.5 298.5,355.5 298.5,404.5" fill="none" stroke="#111" stroke-width="1"/>
<text x="247.3" y="302.5" font-size="6.6" text-anchor="middle" font-weight="normal" >HOEmedium</text>
<text x="247.3" y="310.5" font-size="6.6" text-anchor="middle" font-weight="normal" >55</text>
<text x="344.0" y="269.5" font-size="6.6" text-anchor="end" font-weight="normal" >HOEbright</text>
<text x="344.0" y="277.0" font-size="6.6" text-anchor="end" font-weight="normal" >10.7</text>
<text x="273.5" y="383.8" font-size="6.6" text-anchor="middle" font-weight="normal" >HOEneg</text>
<text x="273.5" y="391.3" font-size="6.6" text-anchor="middle" font-weight="normal" >33.6</text>
<clipPath id="cD2"><rect x="377" y="260.5" width="142" height="144.0"/></clipPath>
<path clip-path="url(#cD2)" d="M372.8 349.7 371.6 349.9 370.7 349.4 369.8 348.3 369.3 346.9 369.3 345.4 369.7 343.9 370.4 343.0 371.6 342.4 372.5 342.4 373.6 343.0 374.3 343.9 374.7 345.1 374.7 346.6 374.3 348.1 373.7 349.1 372.8 349.7 M373.1 353.2 372.2 353.4 371.0 353.3 369.8 352.7 368.9 352.0 367.6 349.9 366.8 347.2 366.9 344.5 367.3 343.0 367.8 341.8 368.6 340.7 369.5 339.9 370.4 339.4 371.6 339.0 372.7 339.1 373.7 339.4 375.3 340.6 376.6 342.7 377.2 345.1 377.1 347.8 376.3 350.2 374.9 352.2 374.0 352.8 373.1 353.2 M372.8 355.7 371.3 355.7 370.1 355.3 368.9 354.7 367.7 353.6 366.8 352.3 365.9 350.5 365.4 348.7 365.2 346.9 365.2 345.1 365.4 343.3 366.0 341.5 366.8 340.0 367.8 338.8 368.9 337.8 370.1 337.2 371.6 336.9 372.8 336.9 374.1 337.3 375.2 337.9 376.4 339.0 377.4 340.3 378.1 341.8 378.6 343.3 378.8 345.1 378.8 346.9 378.6 348.7 378.1 350.5 377.3 352.2 376.4 353.5 375.2 354.6 374.0 355.3 372.8 355.7 M373.4 357.4 371.6 357.6 370.1 357.3 368.6 356.5 367.1 355.3 365.9 353.7 364.9 351.7 364.2 349.6 363.9 347.2 363.9 344.8 364.2 342.7 364.9 340.6 365.9 338.8 367.1 337.3 368.3 336.3 369.8 335.5 371.6 335.1 373.1 335.2 374.6 335.7 376.1 336.6 377.3 337.7 378.3 339.1 379.2 340.9 379.8 342.7 380.1 344.8 380.2 346.9 379.9 349.0 379.3 351.1 378.6 352.9 377.6 354.4 376.4 355.8 374.9 356.8 373.4 357.4 M373.7 359.0 371.6 359.2 369.8 358.8 368.0 357.9 366.5 356.6 365.0 354.7 363.9 352.6 363.2 350.2 362.8 347.8 362.7 345.1 363.0 342.7 363.7 340.3 364.8 338.2 366.1 336.4 367.7 335.0 369.5 334.0 371.3 333.6 373.1 333.7 374.9 334.2 376.4 335.1 377.9 336.4 379.1 338.0 380.1 340.0 380.8 342.1 381.2 344.5 381.3 346.9 381.0 349.3 380.4 351.7 379.5 353.8 378.4 355.6 377.0 357.1 375.5 358.2 373.7 359.0 M362.0 342.6 362.6 340.3 363.5 338.2 364.7 336.3 366.2 334.6 367.7 333.5 369.5 332.7 371.3 332.3 373.4 332.4 375.2 332.9 377.0 334.0 378.5 335.3 379.8 337.0 380.9 339.1 381.7 341.2 382.2 343.6 382.3 346.0 382.2 348.4 381.7 351.1 380.9 353.5 379.8 355.6 378.5 357.3 377.0 358.8 375.2 359.9 373.4 360.5 371.6 360.6 369.8 360.3 368.0 359.5 366.2 358.1 364.8 356.5 363.6 354.4 362.7 352.3 362.0 349.6 M362.0 339.2 363.0 337.0 364.2 335.2 365.6 333.7 367.4 332.3 369.2 331.5 371.0 331.1 372.8 331.1 374.6 331.4 376.4 332.2 378.1 333.4 379.5 334.9 380.8 336.7 381.8 338.8 382.6 340.9 383.1 343.6 383.2 346.0 383.1 348.7 382.6 351.4 381.8 353.8 380.8 355.9 379.4 358.0 377.9 359.5 376.4 360.6 374.6 361.5 372.8 361.9 371.0 361.8 369.2 361.4 367.4 360.5 365.6 359.1 364.2 357.4 363.0 355.6 362.0 353.2 M362.0 337.0 363.2 334.9 364.7 333.2 366.2 331.9 368.0 330.8 369.8 330.2 371.6 329.9 373.4 330.0 375.5 330.6 377.3 331.5 378.9 332.8 380.5 334.6 381.7 336.4 382.7 338.5 383.5 340.9 383.9 343.6 384.1 346.0 383.9 348.7 383.5 351.4 382.8 353.8 381.7 356.2 380.4 358.3 378.8 360.1 377.3 361.4 375.5 362.4 373.7 362.9 371.6 363.1 369.8 362.8 368.0 362.1 366.2 361.0 364.7 359.6 363.2 357.7 362.0 355.6 M362.0 335.2 363.3 333.4 365.0 331.6 366.8 330.3 368.6 329.4 370.4 329.0 372.5 328.9 374.3 329.1 376.4 329.9 378.2 331.0 379.7 332.2 381.2 334.0 382.5 336.1 383.5 338.2 384.3 340.9 384.7 343.3 384.9 346.0 384.7 348.7 384.3 351.4 383.5 354.1 382.5 356.5 381.3 358.6 379.9 360.4 378.2 362.0 376.4 363.1 374.6 363.9 372.5 364.2 370.4 364.1 368.6 363.6 366.8 362.7 365.0 361.3 363.3 359.5 362.0 357.5 M362.0 333.7 363.5 331.8 365.3 330.2 367.1 329.1 368.9 328.3 371.0 327.9 373.1 327.9 375.2 328.4 377.0 329.1 378.8 330.3 380.6 331.9 382.0 333.7 383.3 335.8 384.3 338.2 385.0 340.6 385.5 343.3 385.6 346.0 385.5 349.0 384.9 352.0 384.2 354.7 383.1 357.1 381.9 359.2 380.3 361.3 378.8 362.7 377.0 363.9 375.2 364.8 373.1 365.2 371.0 365.2 368.9 364.8 366.8 363.8 365.0 362.5 363.4 361.0 362.0 359.1 M362.0 332.3 363.5 330.6 365.3 329.1 367.1 328.1 369.2 327.3 371.3 326.9 373.4 327.0 375.5 327.5 377.6 328.4 379.4 329.6 381.2 331.4 382.8 333.4 384.0 335.5 385.0 337.9 385.7 340.6 386.2 343.3 386.3 346.0 386.2 349.0 385.7 351.7 384.9 354.7 384.0 357.1 382.7 359.5 381.2 361.6 379.4 363.4 377.6 364.7 375.8 365.6 373.7 366.2 371.6 366.3 369.5 366.0 367.7 365.4 365.6 364.2 363.7 362.5 362.0 360.5 M362.0 331.1 363.8 329.3 365.6 327.9 367.7 326.8 369.8 326.2 371.9 326.0 374.0 326.2 376.1 326.8 378.2 327.8 380.0 329.1 381.8 330.9 383.5 333.1 384.6 335.2 385.6 337.6 386.4 340.3 386.8 343.0 387.0 346.0 386.8 349.0 386.4 352.0 385.6 355.0 384.7 357.4 383.4 359.8 381.8 362.1 380.0 364.0 378.2 365.3 376.1 366.4 374.0 367.1 371.9 367.2 369.8 367.0 367.7 366.4 365.6 365.2 363.8 363.8 362.0 361.8 M362.0 330.0 363.8 328.2 365.6 327.0 367.7 325.9 370.1 325.3 372.2 325.1 374.6 325.4 376.7 326.1 378.8 327.2 380.6 328.6 382.4 330.4 383.9 332.5 385.2 334.9 386.2 337.3 387.1 340.3 387.5 343.0 387.6 346.0 387.5 349.3 387.1 352.0 386.4 354.7 385.3 357.7 384.1 360.1 382.4 362.5 380.6 364.5 378.8 366.0 376.7 367.1 374.6 367.9 372.5 368.2 370.1 368.0 368.0 367.4 365.6 366.2 363.8 364.9 362.0 363.0 M362.0 328.9 363.8 327.3 365.6 326.1 367.7 325.1 370.1 324.5 372.2 324.3 374.6 324.6 377.0 325.4 379.1 326.5 381.1 328.0 382.8 329.8 384.4 331.9 385.8 334.6 386.8 337.0 387.6 340.0 388.1 343.0 388.3 346.0 388.1 349.0 387.6 352.3 387.0 355.0 385.9 358.0 384.5 360.7 382.9 363.1 381.2 365.0 379.1 366.7 377.0 367.9 374.9 368.7 372.8 369.0 370.4 368.9 368.0 368.3 365.9 367.4 363.8 365.9 362.0 364.2 M362.0 327.9 364.1 326.1 366.2 324.9 368.6 324.0 370.7 323.6 373.1 323.6 375.2 323.9 377.6 324.8 379.7 326.0 381.8 327.7 383.5 329.5 384.9 331.6 386.4 334.3 387.5 337.0 388.3 340.0 388.7 343.0 388.9 346.0 388.7 349.0 388.3 352.3 387.4 355.6 386.5 358.3 385.1 361.0 383.5 363.4 381.7 365.5 379.7 367.2 377.3 368.7 375.2 369.5 373.1 369.8 370.7 369.8 368.3 369.3 366.2 368.4 364.1 367.1 362.0 365.2 M362.0 327.0 364.1 325.3 366.5 323.9 368.9 323.1 371.0 322.8 373.4 322.8 375.8 323.3 377.9 324.1 380.0 325.3 382.1 327.0 383.8 328.9 385.5 331.3 386.8 333.7 388.0 336.7 388.8 339.7 389.3 342.7 389.4 346.0 389.3 349.6 388.8 352.6 388.0 355.9 387.0 358.6 385.5 361.6 383.9 364.0 382.1 366.1 380.0 367.9 377.9 369.2 375.5 370.2 373.1 370.7 371.0 370.7 368.6 370.2 366.2 369.3 364.1 368.0 362.0 366.2" fill="none" stroke="#000" stroke-width="1.0" stroke-linejoin="round"/>
<clipPath id="cD"><rect x="377" y="260.5" width="142" height="144.0"/></clipPath>
<path clip-path="url(#cD)" d="M456.2 331.9 455.0 332.2 454.1 331.8 453.8 331.0 453.9 329.5 454.7 327.8 455.6 326.5 456.8 325.7 458.0 325.6 458.7 325.9 459.3 326.8 459.6 327.7 459.5 328.6 459.2 329.2 458.3 330.4 457.3 331.3 456.2 331.9 M455.0 333.1 453.8 333.0 453.1 332.2 453.0 330.7 453.7 328.6 455.0 326.5 455.9 325.6 457.4 325.0 458.6 325.1 459.5 325.9 460.0 326.8 460.2 328.0 459.9 329.2 458.9 330.6 457.7 331.8 456.2 332.8 455.0 333.1 M455.6 333.7 454.1 334.0 453.2 333.7 452.8 333.4 452.3 332.2 452.6 330.1 453.8 327.5 455.3 325.5 456.8 324.6 457.7 324.4 458.6 324.6 459.5 325.1 460.3 326.2 460.7 327.4 460.5 328.9 460.0 330.1 458.6 331.7 457.1 333.0 455.6 333.7 M454.7 334.7 453.1 334.6 452.5 334.3 452.0 333.7 451.8 331.9 452.4 329.5 453.8 326.8 455.3 325.0 457.1 324.1 458.0 324.0 458.9 324.2 460.1 325.0 461.0 326.5 461.2 328.0 460.8 329.5 459.8 331.1 458.0 332.9 456.2 334.1 454.7 334.7 M455.0 335.2 453.2 335.4 452.3 335.1 451.7 334.6 451.3 333.7 451.2 332.8 451.8 330.1 453.2 327.1 455.0 324.8 456.0 324.1 457.1 323.7 458.3 323.6 459.2 323.8 460.4 324.7 461.3 326.2 461.6 327.7 461.3 329.5 460.4 331.0 458.6 333.0 456.8 334.4 455.0 335.2 M454.7 335.9 453.5 336.1 452.6 336.0 451.7 335.6 451.1 335.0 450.8 334.3 450.7 333.1 451.4 330.1 453.0 326.8 454.1 325.3 455.0 324.4 455.9 323.8 457.1 323.3 458.3 323.2 459.2 323.4 460.7 324.4 461.7 325.9 462.0 327.7 461.7 329.5 460.7 331.3 458.6 333.5 456.8 334.9 454.7 335.9 M453.2 336.7 452.0 336.6 451.1 336.1 450.6 335.5 450.3 334.6 450.2 333.4 450.4 331.9 451.7 328.6 453.7 325.3 455.3 323.8 456.5 323.1 457.7 322.8 458.9 322.9 459.8 323.2 461.3 324.4 462.2 326.2 462.3 328.3 461.9 330.1 460.1 332.6 457.7 334.8 455.3 336.2 453.2 336.7 M452.9 337.3 451.7 337.2 450.8 336.7 450.2 336.1 449.8 334.9 449.8 333.7 450.0 332.2 451.3 328.6 453.5 325.0 455.3 323.4 456.5 322.8 457.7 322.5 458.9 322.5 460.1 322.9 461.6 324.2 462.6 326.2 462.7 328.3 462.1 330.4 460.1 333.1 457.7 335.3 455.3 336.7 452.9 337.3 M454.1 337.7 452.6 337.9 451.4 337.7 450.4 337.3 449.7 336.4 449.3 335.2 449.3 334.0 449.6 332.2 450.2 330.4 452.2 326.5 453.4 324.7 454.4 323.7 455.6 322.9 457.1 322.3 458.6 322.1 459.8 322.4 461.5 323.5 462.6 325.3 463.1 327.4 462.7 329.8 462.2 331.0 461.3 332.2 458.9 334.8 456.5 336.6 454.1 337.7 M453.8 338.3 452.3 338.5 451.1 338.3 449.9 337.7 449.3 337.0 448.9 335.8 448.9 334.3 449.2 332.5 449.8 330.4 452.0 326.2 453.2 324.5 454.4 323.3 455.9 322.4 457.4 321.9 458.9 321.8 460.1 322.1 461.0 322.6 461.9 323.4 463.0 325.3 463.5 327.7 463.0 330.1 461.5 332.5 458.9 335.3 456.2 337.3 453.8 338.3 M453.5 338.8 452.0 339.0 450.6 338.8 449.5 338.2 448.8 337.3 448.5 336.1 448.4 334.6 448.7 332.8 449.4 330.7 450.5 328.3 451.7 326.2 452.9 324.4 454.1 323.2 455.6 322.2 457.1 321.6 458.6 321.4 460.1 321.7 461.2 322.3 462.2 323.2 463.4 325.3 463.8 327.7 463.4 330.1 462.8 331.3 461.7 332.8 458.9 335.8 456.2 337.7 453.5 338.8 M452.9 339.5 451.4 339.5 449.9 339.2 449.0 338.6 448.3 337.6 448.0 336.1 448.1 334.3 448.5 332.2 449.3 330.1 450.5 327.7 452.0 325.3 453.1 323.8 454.4 322.6 455.9 321.7 457.4 321.2 458.9 321.1 460.4 321.5 461.4 322.0 462.4 322.9 463.1 323.9 463.7 325.1 464.1 326.5 464.1 327.7 464.0 329.2 463.6 330.4 463.0 331.6 461.9 333.1 458.9 336.3 455.9 338.3 454.4 339.0 452.9 339.5 M452.6 340.0 451.1 340.1 449.6 339.7 448.6 339.1 447.9 337.9 447.6 336.4 447.7 334.6 448.1 332.5 449.0 330.1 450.2 327.7 451.6 325.3 452.8 323.8 454.1 322.5 455.6 321.6 457.4 320.9 459.2 320.8 460.7 321.2 461.9 322.0 462.8 322.9 463.6 324.1 464.1 325.3 464.4 326.5 464.5 328.0 463.8 330.7 463.1 332.0 461.9 333.7 458.6 337.0 455.6 339.0 454.1 339.6 452.6 340.0 M451.7 340.6 450.2 340.5 448.7 340.0 447.8 339.1 447.3 337.9 447.1 336.1 447.4 334.0 448.1 331.6 449.1 329.2 450.4 326.8 452.0 324.3 453.2 322.9 454.4 322.0 455.9 321.1 457.7 320.6 459.5 320.5 461.0 321.0 462.1 321.7 463.1 322.7 463.8 323.8 464.5 325.3 464.8 326.8 464.8 328.3 464.5 329.8 464.0 331.1 463.2 332.5 461.6 334.5 458.3 337.7 455.0 339.7 453.2 340.4 451.7 340.6 M452.9 340.9 451.1 341.2 449.3 340.9 448.1 340.3 447.2 339.2 446.8 337.6 446.8 335.8 447.1 333.7 447.9 331.3 449.1 328.6 450.5 326.1 452.1 323.8 453.5 322.3 455.3 321.1 457.1 320.4 458.9 320.2 460.7 320.5 461.9 321.1 463.1 322.2 464.0 323.4 464.6 324.7 465.0 326.2 465.1 327.7 465.0 329.2 464.5 330.7 463.8 332.2 462.7 333.7 459.5 337.1 456.2 339.5 454.4 340.4 452.9 340.9 M452.3 341.6 450.5 341.7 448.7 341.3 447.5 340.6 446.7 339.4 446.3 337.9 446.4 335.8 446.9 333.4 447.8 330.7 449.2 327.7 450.9 325.0 452.3 323.1 453.8 321.7 455.6 320.6 457.4 320.0 459.2 319.9 461.0 320.2 462.2 320.9 463.4 322.0 464.3 323.2 465.0 324.7 465.4 326.2 465.5 327.7 465.2 329.5 464.8 331.0 464.0 332.5 462.6 334.3 459.2 337.8 455.6 340.3 453.8 341.1 452.3 341.6 M452.0 342.1 450.2 342.2 448.4 341.9 447.2 341.2 446.3 339.9 445.9 338.2 446.0 335.8 446.5 333.4 447.5 330.7 448.9 327.7 450.6 325.0 452.0 323.1 453.5 321.6 455.3 320.5 457.4 319.7 459.5 319.6 461.3 320.0 462.5 320.7 463.7 321.8 464.7 323.2 465.3 324.7 465.7 326.2 465.8 327.7 465.6 329.5 465.1 331.0 464.3 332.6 462.8 334.6 459.2 338.3 455.6 340.8 453.8 341.6 452.0 342.1 M451.4 342.7 449.6 342.8 447.8 342.3 446.6 341.5 445.8 340.0 445.5 338.2 445.6 335.8 446.3 333.1 447.4 330.1 449.0 327.1 450.9 324.1 452.3 322.3 453.8 321.0 455.6 320.0 457.7 319.3 459.8 319.3 461.6 319.8 462.8 320.5 464.1 321.7 465.1 323.2 465.7 324.7 466.0 326.2 466.1 328.0 465.8 329.8 465.3 331.3 464.5 332.8 462.8 335.1 461.0 337.1 458.9 339.0 456.8 340.5 455.0 341.5 453.2 342.3 451.4 342.7 M450.8 343.3 448.7 343.2 446.9 342.5 445.8 341.5 445.2 340.0 445.0 337.9 445.3 335.5 446.0 332.8 447.2 329.8 448.8 326.8 450.8 323.7 452.3 322.0 453.8 320.7 455.9 319.5 458.0 319.0 460.1 319.0 461.9 319.5 463.4 320.5 464.5 321.7 465.5 323.2 466.1 324.7 466.4 326.5 466.4 328.3 466.1 330.1 465.5 331.7 464.5 333.4 462.7 335.8 460.7 337.9 458.6 339.7 456.8 341.0 454.7 342.1 452.6 342.9 450.8 343.3 M449.9 343.9 447.8 343.6 446.3 342.9 445.3 341.8 444.7 340.0 444.6 337.6 445.1 334.9 446.0 331.9 447.4 328.9 449.0 325.9 450.9 323.2 452.3 321.6 454.1 320.2 456.2 319.1 458.3 318.6 460.4 318.7 462.2 319.3 463.7 320.3 464.9 321.7 465.8 323.2 466.5 325.0 466.8 326.8 466.7 328.6 466.4 330.4 465.6 332.2 464.5 334.0 462.3 336.7 460.1 338.9 458.0 340.6 455.9 342.0 453.8 343.0 451.7 343.7 449.9 343.9 M451.4 344.3 449.3 344.5 447.2 344.1 445.7 343.3 444.6 341.8 444.2 339.7 444.2 337.3 444.9 334.3 445.9 331.3 447.5 328.0 449.5 324.7 451.2 322.3 453.1 320.5 455.3 319.2 457.7 318.4 459.8 318.2 461.9 318.7 463.4 319.6 464.7 320.8 465.8 322.3 466.6 324.1 467.0 325.9 467.1 327.7 466.9 329.8 466.3 331.6 465.3 333.4 463.7 335.6 461.6 337.9 459.5 339.9 457.4 341.5 455.3 342.8 453.2 343.7 451.4 344.3 M451.1 344.8 448.7 345.0 446.6 344.6 445.1 343.6 444.1 342.1 443.7 340.0 443.8 337.6 444.4 334.6 445.6 331.3 447.3 327.7 449.3 324.4 451.1 322.0 452.9 320.3 455.3 318.8 457.7 318.0 460.1 317.9 462.2 318.5 463.7 319.4 465.2 320.8 466.2 322.3 467.0 324.1 467.4 325.9 467.5 328.0 467.2 330.1 466.5 331.9 465.6 333.7 463.7 336.1 461.6 338.5 459.5 340.4 457.4 342.0 455.3 343.3 453.2 344.2 451.1 344.8 M450.8 345.5 448.4 345.6 446.3 345.2 444.7 344.2 443.7 342.7 443.2 340.6 443.3 337.9 444.1 334.6 445.3 331.3 447.0 327.7 449.2 324.1 451.0 321.7 452.9 319.9 455.3 318.5 457.7 317.7 460.1 317.6 462.2 318.1 463.7 318.9 465.2 320.3 466.4 322.0 467.3 323.8 467.7 325.6 467.8 327.7 467.6 329.8 466.9 331.9 466.0 333.7 464.0 336.3 461.9 338.7 459.5 340.9 457.4 342.5 455.0 343.9 452.9 344.9 450.8 345.5 M450.8 346.0 448.1 346.2 446.0 345.8 444.3 344.8 443.3 343.3 442.7 340.9 442.9 338.2 443.5 335.2 444.8 331.6 446.5 328.0 448.6 324.4 450.6 321.7 452.6 319.8 455.0 318.3 457.7 317.4 460.1 317.2 462.5 317.8 464.0 318.7 465.6 320.2 466.9 322.0 467.7 323.8 468.1 325.6 468.2 327.7 468.0 329.8 467.3 331.9 466.2 334.0 464.4 336.4 462.2 338.9 459.8 341.1 457.7 342.8 455.3 344.3 452.9 345.4 450.8 346.0 M450.5 346.6 447.8 346.9 445.7 346.5 443.9 345.4 442.8 343.9 442.3 341.5 442.3 338.8 443.0 335.5 444.3 331.9 446.1 328.0 448.3 324.4 450.2 321.7 452.4 319.6 454.7 318.1 457.4 317.1 460.1 316.8 462.5 317.4 464.0 318.2 465.8 319.8 467.0 321.4 468.0 323.5 468.5 325.6 468.6 327.7 468.3 329.8 467.7 331.9 466.7 334.0 464.9 336.4 462.5 339.1 460.1 341.4 457.7 343.3 455.3 344.8 452.9 345.9 450.5 346.6 M448.7 347.5 446.3 347.4 444.2 346.6 443.3 345.9 442.7 345.2 441.9 343.3 441.7 340.6 442.1 337.6 443.1 334.0 444.7 330.1 446.8 326.2 449.3 322.4 450.9 320.5 452.9 318.8 455.6 317.3 458.3 316.5 460.7 316.5 463.1 317.2 464.9 318.4 466.4 319.9 467.6 321.7 468.5 323.8 468.9 325.9 469.0 328.3 468.5 330.7 467.7 332.8 466.5 334.9 464.0 338.1 461.6 340.6 458.9 342.9 456.2 344.8 453.5 346.2 451.1 347.1 448.7 347.5 M449.0 348.1 446.3 348.1 443.9 347.3 442.4 346.1 441.5 344.2 441.2 341.5 441.5 338.5 442.4 334.9 443.9 331.0 445.9 327.1 448.5 322.9 450.4 320.5 452.6 318.6 455.3 317.0 458.0 316.2 460.7 316.1 463.1 316.7 464.9 317.8 466.7 319.6 467.9 321.4 468.8 323.5 469.3 325.9 469.4 328.3 468.9 330.7 468.2 332.8 467.0 334.9 464.4 338.2 461.9 340.9 459.2 343.3 456.8 345.0 454.1 346.5 451.4 347.6 449.0 348.1 M449.3 348.7 446.3 348.9 443.9 348.3 442.1 347.0 441.0 345.1 440.6 342.4 440.8 339.4 441.7 335.8 443.2 331.6 445.3 327.4 447.9 323.2 450.0 320.5 452.3 318.4 455.0 316.8 458.0 315.8 460.7 315.7 463.4 316.4 465.2 317.5 467.0 319.2 468.3 321.1 469.2 323.2 469.7 325.6 469.8 328.0 469.5 330.4 468.6 332.8 467.5 334.9 465.0 338.2 462.5 340.9 459.8 343.4 457.1 345.4 454.4 347.0 451.7 348.1 449.3 348.7 M448.1 349.6 445.1 349.5 442.7 348.6 441.8 348.0 441.1 347.2 440.2 345.1 440.0 342.4 440.4 338.8 441.5 334.9 443.2 330.7 445.6 326.2 448.3 322.0 450.2 319.7 452.3 317.9 455.3 316.2 458.3 315.3 461.0 315.3 463.7 316.0 465.6 317.2 467.4 319.0 468.8 321.1 469.7 323.2 470.2 325.6 470.2 328.3 469.8 330.7 469.0 333.1 467.6 335.5 464.9 339.0 462.2 341.8 459.2 344.5 456.5 346.4 453.5 348.0 450.8 349.1 448.1 349.6 M449.0 350.2 446.0 350.5 443.3 349.9 441.2 348.7 440.0 346.9 439.4 344.2 439.5 340.9 440.4 336.7 442.0 332.5 444.3 327.7 447.0 323.2 449.2 320.2 451.7 317.9 454.7 316.0 457.7 315.0 460.7 314.8 462.2 315.0 463.7 315.5 465.6 316.6 467.5 318.4 469.0 320.5 470.1 322.9 470.6 325.3 470.7 328.0 470.3 330.7 469.5 333.1 468.2 335.5 465.7 338.8 462.9 341.8 460.1 344.4 457.4 346.4 454.4 348.2 451.7 349.4 449.0 350.2 M448.4 351.1 445.1 351.3 442.4 350.7 441.2 350.0 440.3 349.3 439.7 348.4 439.1 347.2 438.6 344.5 438.9 340.9 439.9 336.7 441.6 332.2 444.0 327.4 446.7 322.9 449.0 319.9 451.7 317.4 454.7 315.5 458.0 314.5 461.0 314.3 462.5 314.5 464.0 315.0 466.1 316.3 468.0 318.1 469.4 320.2 470.5 322.6 471.1 325.3 471.2 328.0 470.8 330.7 469.9 333.4 468.6 335.8 465.8 339.4 463.1 342.4 460.1 345.1 457.1 347.3 454.1 349.1 451.1 350.4 448.4 351.1 M448.1 352.0 444.8 352.2 443.3 352.0 441.8 351.6 440.6 351.0 439.7 350.2 439.0 349.3 438.4 348.1 437.9 345.4 438.1 341.8 439.0 337.6 440.8 332.8 443.1 328.0 446.2 322.9 448.7 319.6 451.4 317.0 454.7 315.0 458.0 313.9 461.3 313.8 462.8 314.0 464.3 314.5 466.4 315.8 468.5 317.8 470.1 320.2 471.1 322.6 471.7 325.3 471.8 328.0 471.4 330.7 470.5 333.4 469.0 336.1 466.5 339.4 463.5 342.7 460.4 345.6 457.4 347.9 454.1 349.9 451.1 351.2 448.1 352.0 M446.3 353.2 443.0 353.1 441.5 352.7 440.0 352.0 439.1 351.4 438.3 350.5 437.6 349.3 437.2 348.1 437.0 344.8 437.5 340.9 438.9 336.1 441.0 331.0 443.8 325.9 447.1 320.8 449.3 318.2 451.7 316.2 455.0 314.3 456.8 313.7 458.6 313.3 461.9 313.2 463.4 313.5 464.9 314.1 467.3 315.7 469.3 317.8 470.8 320.2 471.8 322.9 472.3 325.6 472.3 328.6 471.8 331.6 470.7 334.3 469.1 337.0 465.8 341.2 462.5 344.6 459.2 347.4 455.9 349.7 452.6 351.4 449.3 352.6 446.3 353.2 M444.8 354.4 443.0 354.3 441.2 354.0 439.7 353.4 438.5 352.7 437.6 351.9 436.9 350.8 436.4 349.6 436.1 348.1 436.0 344.5 436.8 340.3 438.6 335.2 441.0 329.8 443.7 325.0 446.9 320.2 449.3 317.5 452.0 315.3 455.6 313.5 458.9 312.6 460.7 312.5 462.5 312.6 464.0 313.0 465.5 313.6 467.9 315.3 469.9 317.5 471.4 319.9 472.5 322.9 473.0 325.9 473.0 328.9 472.4 331.9 471.2 334.9 469.0 338.2 465.6 342.4 462.2 345.8 458.6 348.7 455.0 351.1 451.4 352.9 448.1 354.0 444.8 354.4 M445.4 355.6 443.3 355.7 441.5 355.6 439.7 355.1 438.2 354.4 437.0 353.6 436.1 352.6 435.1 350.2 434.7 346.9 435.3 342.7 436.8 337.6 439.2 331.9 442.2 326.2 445.9 320.5 448.4 317.5 451.1 315.2 454.7 313.1 456.8 312.4 458.6 311.9 460.4 311.8 462.2 311.8 464.0 312.2 465.5 312.8 467.9 314.3 470.2 316.6 471.9 319.3 473.1 322.3 473.7 325.3 473.7 328.6 473.1 331.9 472.0 334.9 470.2 337.9 466.6 342.4 463.1 346.0 459.5 349.1 455.9 351.6 452.3 353.6 448.7 354.9 445.4 355.6 M444.8 357.1 442.7 357.3 440.9 357.1 439.1 356.8 437.3 356.1 436.1 355.4 435.0 354.4 434.2 353.2 433.6 351.7 433.3 349.9 433.2 348.1 433.8 343.9 435.4 338.8 438.1 332.5 441.4 326.2 445.3 320.2 447.8 317.1 450.8 314.5 452.9 313.2 454.7 312.3 458.6 311.1 460.7 310.9 462.5 311.0 464.3 311.3 466.1 312.0 468.5 313.6 470.9 316.1 472.8 319.0 474.0 322.0 474.6 325.3 474.6 328.6 474.0 331.9 472.8 335.2 471.0 338.2 467.2 343.0 463.7 346.7 459.8 350.1 455.9 352.8 452.3 354.8 448.4 356.3 444.8 357.1 M444.5 358.9 442.1 359.1 440.0 359.1 437.9 358.7 436.1 358.2 434.6 357.4 433.4 356.5 432.4 355.3 431.7 353.8 431.3 352.3 431.1 350.8 431.4 346.9 432.9 341.8 435.3 336.1 438.9 328.9 442.6 322.6 446.0 317.8 449.3 314.6 451.4 313.0 453.5 311.8 455.9 310.8 458.0 310.2 460.4 309.9 462.5 309.8 464.6 310.2 466.4 310.8 469.1 312.6 471.6 315.1 473.6 318.1 474.9 321.4 475.6 324.7 475.7 328.3 475.2 331.6 473.9 335.2 472.1 338.5 468.4 343.3 464.6 347.3 460.4 351.1 456.5 353.9 452.3 356.3 448.4 357.9 444.5 358.9 M441.8 361.6 439.4 361.7 437.3 361.6 433.4 360.6 431.9 359.9 430.5 358.9 429.3 357.7 428.4 356.5 427.8 355.3 427.4 353.8 427.3 352.3 427.4 350.8 428.4 346.9 430.5 342.1 436.8 330.1 440.5 323.8 444.6 317.8 446.3 315.8 448.1 314.1 450.5 312.2 452.9 310.8 455.6 309.6 458.0 308.8 460.7 308.4 463.4 308.4 465.5 308.7 467.6 309.4 468.8 310.2 470.3 311.4 473.2 314.8 475.2 318.1 476.4 321.4 477.1 325.0 477.1 328.9 476.4 332.5 474.9 336.4 472.5 340.3 468.2 345.7 463.7 350.3 459.2 354.0 454.7 357.1 450.2 359.4 446.0 360.8 441.8 361.6 M439.7 364.6 434.9 364.6 430.4 363.7 426.5 362.1 422.3 359.5 420.0 357.4 419.2 356.2 418.8 355.0 418.6 353.8 418.7 352.6 419.1 351.1 419.8 349.6 421.1 347.5 422.7 345.4 428.3 339.8 430.7 336.9 433.1 333.4 438.9 323.8 442.3 318.7 444.9 315.4 447.8 312.6 450.2 310.8 452.9 309.2 455.6 308.0 458.3 307.2 461.6 306.6 464.9 306.5 467.6 306.7 469.4 307.4 470.3 308.0 471.2 309.0 475.5 315.1 477.2 318.4 478.3 322.0 478.8 325.9 478.6 329.8 477.7 333.7 476.1 337.6 473.2 342.1 468.5 347.8 463.7 352.6 458.9 356.5 454.1 359.7 449.3 362.1 444.5 363.8 439.7 364.6 M438.8 367.3 435.8 367.5 432.5 367.4 428.9 367.0 425.9 366.4 420.8 365.0 417.2 363.7 414.7 362.5 412.7 361.1 411.6 359.8 410.8 358.6 410.3 357.1 410.0 355.6 410.3 352.9 411.8 347.8 411.8 346.6 411.6 345.7 411.0 344.5 410.2 343.6 406.1 340.6 404.6 339.1 404.0 338.2 403.7 337.3 403.8 336.4 404.1 335.8 405.0 334.9 406.4 334.2 408.5 333.8 410.6 333.7 413.0 333.8 415.4 334.3 423.5 336.6 425.6 336.7 427.4 336.2 429.5 334.8 431.9 332.2 439.8 320.2 443.3 315.4 446.2 312.4 449.3 309.9 452.9 307.7 457.4 306.0 460.1 305.3 467.9 303.8 475.4 301.0 477.5 300.7 479.0 301.0 479.4 301.3 479.7 301.9 479.4 303.1 478.4 304.3 475.4 306.9 474.8 307.9 474.6 308.8 475.1 310.9 477.9 316.3 479.0 319.0 479.9 322.0 480.3 325.3 480.2 329.2 479.5 333.1 478.2 336.7 476.5 340.0 472.5 345.4 468.1 350.5 463.4 355.0 458.3 359.1 453.2 362.4 448.4 364.8 443.3 366.5 438.8 367.3 M436.4 370.0 432.2 370.2 427.7 370.0 422.9 369.4 417.8 368.4 414.5 367.6 411.8 366.6 409.4 365.3 407.4 363.7 406.1 362.2 405.1 360.7 404.5 359.2 404.2 357.4 404.3 354.1 405.8 348.4 405.7 346.6 405.4 345.7 404.5 344.5 400.5 340.6 399.1 338.8 398.5 337.6 398.4 336.7 398.5 335.5 398.9 334.6 400.1 333.3 402.2 332.2 404.9 331.4 407.9 331.0 410.9 331.0 414.2 331.3 424.4 333.3 426.2 333.3 428.0 332.9 430.1 331.5 432.2 329.3 440.1 317.8 443.1 313.9 446.3 310.7 449.9 308.1 452.6 306.5 455.3 305.3 458.0 304.4 465.8 302.4 472.4 299.5 475.1 298.5 477.5 298.0 479.9 297.8 481.7 298.0 483.2 298.6 484.1 299.5 484.5 300.4 484.4 301.3 484.0 302.5 482.3 304.6 478.1 308.1 477.4 309.1 477.2 310.0 477.5 311.9 479.8 316.9 480.8 319.9 481.5 323.2 481.7 326.5 481.5 330.1 480.7 334.0 479.2 337.9 477.4 341.2 473.1 346.9 468.2 352.5 463.1 357.4 458.0 361.4 452.6 364.8 447.2 367.4 442.1 369.0 436.4 370.0 M430.4 372.7 425.6 372.6 421.1 372.2 416.3 371.6 412.4 370.7 409.4 369.7 406.7 368.5 404.5 367.0 402.5 365.2 401.4 363.7 400.4 361.9 399.8 360.1 399.4 358.0 399.6 355.0 401.2 349.0 401.2 346.9 401.0 346.0 400.3 344.8 396.4 340.3 395.1 338.2 394.8 337.0 394.7 335.8 395.0 334.6 395.6 333.4 397.2 331.9 399.5 330.7 402.5 329.7 405.8 329.2 409.4 329.1 413.0 329.3 424.4 330.9 426.2 330.9 428.0 330.5 430.1 329.2 432.2 327.0 440.3 315.7 443.0 312.4 446.6 309.1 450.8 306.2 455.3 304.1 464.3 301.3 472.4 297.8 476.0 296.7 479.3 296.1 482.0 296.0 484.4 296.5 486.2 297.4 487.0 298.3 487.4 299.5 487.4 300.7 486.8 302.2 485.0 304.6 480.2 308.6 479.6 309.4 479.2 310.3 479.2 311.2 479.4 312.4 481.5 317.5 482.5 321.1 483.0 324.7 483.0 328.6 482.4 332.8 481.0 337.0 479.1 340.9 476.5 344.8 471.4 351.1 465.8 356.9 460.1 361.8 454.1 365.9 448.4 368.9 442.4 371.1 436.7 372.3 430.4 372.7" fill="none" stroke="#000" stroke-width="1.0" stroke-linejoin="round"/>
<rect x="377" y="260.5" width="142" height="144.0" fill="none" stroke="#111" stroke-width="1"/>
<polyline points="377,260.5 377,404.5 519,404.5" fill="none" stroke="#111" stroke-width="1.5"/>
<line x1="374.0" y1="373.6" x2="377" y2="373.6" stroke="#111" stroke-width="0.8"/>
<line x1="375.2" y1="363.3" x2="377" y2="363.3" stroke="#111" stroke-width="0.8"/>
<line x1="375.2" y1="357.2" x2="377" y2="357.2" stroke="#111" stroke-width="0.8"/>
<line x1="375.2" y1="352.9" x2="377" y2="352.9" stroke="#111" stroke-width="0.8"/>
<line x1="375.2" y1="349.6" x2="377" y2="349.6" stroke="#111" stroke-width="0.8"/>
<line x1="375.2" y1="346.9" x2="377" y2="346.9" stroke="#111" stroke-width="0.8"/>
<line x1="375.2" y1="344.6" x2="377" y2="344.6" stroke="#111" stroke-width="0.8"/>
<line x1="375.2" y1="342.6" x2="377" y2="342.6" stroke="#111" stroke-width="0.8"/>
<line x1="375.2" y1="340.9" x2="377" y2="340.9" stroke="#111" stroke-width="0.8"/>
<line x1="374.0" y1="339.3" x2="377" y2="339.3" stroke="#111" stroke-width="0.8"/>
<line x1="375.2" y1="329.2" x2="377" y2="329.2" stroke="#111" stroke-width="0.8"/>
<line x1="375.2" y1="323.2" x2="377" y2="323.2" stroke="#111" stroke-width="0.8"/>
<line x1="375.2" y1="319.0" x2="377" y2="319.0" stroke="#111" stroke-width="0.8"/>
<line x1="375.2" y1="315.7" x2="377" y2="315.7" stroke="#111" stroke-width="0.8"/>
<line x1="375.2" y1="313.1" x2="377" y2="313.1" stroke="#111" stroke-width="0.8"/>
<line x1="375.2" y1="310.8" x2="377" y2="310.8" stroke="#111" stroke-width="0.8"/>
<line x1="375.2" y1="308.9" x2="377" y2="308.9" stroke="#111" stroke-width="0.8"/>
<line x1="375.2" y1="307.1" x2="377" y2="307.1" stroke="#111" stroke-width="0.8"/>
<line x1="374.0" y1="305.6" x2="377" y2="305.6" stroke="#111" stroke-width="0.8"/>
<line x1="375.2" y1="296.3" x2="377" y2="296.3" stroke="#111" stroke-width="0.8"/>
<line x1="375.2" y1="290.8" x2="377" y2="290.8" stroke="#111" stroke-width="0.8"/>
<line x1="375.2" y1="286.9" x2="377" y2="286.9" stroke="#111" stroke-width="0.8"/>
<line x1="375.2" y1="283.9" x2="377" y2="283.9" stroke="#111" stroke-width="0.8"/>
<line x1="375.2" y1="281.5" x2="377" y2="281.5" stroke="#111" stroke-width="0.8"/>
<line x1="375.2" y1="279.4" x2="377" y2="279.4" stroke="#111" stroke-width="0.8"/>
<line x1="375.2" y1="277.6" x2="377" y2="277.6" stroke="#111" stroke-width="0.8"/>
<line x1="375.2" y1="276.0" x2="377" y2="276.0" stroke="#111" stroke-width="0.8"/>
<line x1="374.0" y1="274.6" x2="377" y2="274.6" stroke="#111" stroke-width="0.8"/>
<line x1="374.0" y1="389.0" x2="377" y2="389.0" stroke="#111" stroke-width="0.8"/>
<line x1="375.2" y1="383.9" x2="377" y2="383.9" stroke="#111" stroke-width="0.8"/>
<line x1="375.2" y1="378.8" x2="377" y2="378.8" stroke="#111" stroke-width="0.8"/>
<line x1="375.2" y1="395.2" x2="377" y2="395.2" stroke="#111" stroke-width="0.8"/>
<line x1="375.2" y1="401.3" x2="377" y2="401.3" stroke="#111" stroke-width="0.8"/>
<line x1="407.0" y1="404.5" x2="407.0" y2="407.5" stroke="#111" stroke-width="0.8"/>
<line x1="418.1" y1="404.5" x2="418.1" y2="406.3" stroke="#111" stroke-width="0.8"/>
<line x1="424.7" y1="404.5" x2="424.7" y2="406.3" stroke="#111" stroke-width="0.8"/>
<line x1="429.3" y1="404.5" x2="429.3" y2="406.3" stroke="#111" stroke-width="0.8"/>
<line x1="432.9" y1="404.5" x2="432.9" y2="406.3" stroke="#111" stroke-width="0.8"/>
<line x1="435.8" y1="404.5" x2="435.8" y2="406.3" stroke="#111" stroke-width="0.8"/>
<line x1="438.3" y1="404.5" x2="438.3" y2="406.3" stroke="#111" stroke-width="0.8"/>
<line x1="440.4" y1="404.5" x2="440.4" y2="406.3" stroke="#111" stroke-width="0.8"/>
<line x1="442.3" y1="404.5" x2="442.3" y2="406.3" stroke="#111" stroke-width="0.8"/>
<line x1="444.0" y1="404.5" x2="444.0" y2="407.5" stroke="#111" stroke-width="0.8"/>
<line x1="453.3" y1="404.5" x2="453.3" y2="406.3" stroke="#111" stroke-width="0.8"/>
<line x1="458.8" y1="404.5" x2="458.8" y2="406.3" stroke="#111" stroke-width="0.8"/>
<line x1="462.7" y1="404.5" x2="462.7" y2="406.3" stroke="#111" stroke-width="0.8"/>
<line x1="465.7" y1="404.5" x2="465.7" y2="406.3" stroke="#111" stroke-width="0.8"/>
<line x1="468.1" y1="404.5" x2="468.1" y2="406.3" stroke="#111" stroke-width="0.8"/>
<line x1="470.2" y1="404.5" x2="470.2" y2="406.3" stroke="#111" stroke-width="0.8"/>
<line x1="472.0" y1="404.5" x2="472.0" y2="406.3" stroke="#111" stroke-width="0.8"/>
<line x1="473.6" y1="404.5" x2="473.6" y2="406.3" stroke="#111" stroke-width="0.8"/>
<line x1="475.0" y1="404.5" x2="475.0" y2="407.5" stroke="#111" stroke-width="0.8"/>
<line x1="485.1" y1="404.5" x2="485.1" y2="406.3" stroke="#111" stroke-width="0.8"/>
<line x1="491.0" y1="404.5" x2="491.0" y2="406.3" stroke="#111" stroke-width="0.8"/>
<line x1="495.2" y1="404.5" x2="495.2" y2="406.3" stroke="#111" stroke-width="0.8"/>
<line x1="498.4" y1="404.5" x2="498.4" y2="406.3" stroke="#111" stroke-width="0.8"/>
<line x1="501.1" y1="404.5" x2="501.1" y2="406.3" stroke="#111" stroke-width="0.8"/>
<line x1="503.3" y1="404.5" x2="503.3" y2="406.3" stroke="#111" stroke-width="0.8"/>
<line x1="505.3" y1="404.5" x2="505.3" y2="406.3" stroke="#111" stroke-width="0.8"/>
<line x1="507.0" y1="404.5" x2="507.0" y2="406.3" stroke="#111" stroke-width="0.8"/>
<line x1="508.5" y1="404.5" x2="508.5" y2="407.5" stroke="#111" stroke-width="0.8"/>
<line x1="392.0" y1="404.5" x2="392.0" y2="407.5" stroke="#111" stroke-width="0.8"/>
<line x1="396.9" y1="404.5" x2="396.9" y2="406.3" stroke="#111" stroke-width="0.8"/>
<line x1="401.9" y1="404.5" x2="401.9" y2="406.3" stroke="#111" stroke-width="0.8"/>
<line x1="386.0" y1="404.5" x2="386.0" y2="406.3" stroke="#111" stroke-width="0.8"/>
<line x1="380.0" y1="404.5" x2="380.0" y2="406.3" stroke="#111" stroke-width="0.8"/>
<text x="371.2" y="391.4" font-size="6.6" text-anchor="end" font-weight="normal" class="s">0</text>
<text class="s" x="371.2" y="376.4" font-size="6.6" text-anchor="end">10<tspan dx="0.3" dy="-2.8" font-size="5.1">2</tspan></text>
<text class="s" x="371.2" y="342.1" font-size="6.6" text-anchor="end">10<tspan dx="0.3" dy="-2.8" font-size="5.1">3</tspan></text>
<text class="s" x="371.2" y="308.4" font-size="6.6" text-anchor="end">10<tspan dx="0.3" dy="-2.8" font-size="5.1">4</tspan></text>
<text class="s" x="371.2" y="277.4" font-size="6.6" text-anchor="end">10<tspan dx="0.3" dy="-2.8" font-size="5.1">5</tspan></text>
<text x="392.0" y="419.0" font-size="6.6" text-anchor="middle" font-weight="normal" class="s">0</text>
<text class="s" x="407.0" y="419.0" font-size="6.6" text-anchor="middle">10<tspan dx="0.3" dy="-2.8" font-size="5.1">2</tspan></text>
<text class="s" x="444.0" y="419.0" font-size="6.6" text-anchor="middle">10<tspan dx="0.3" dy="-2.8" font-size="5.1">3</tspan></text>
<text class="s" x="475.0" y="419.0" font-size="6.6" text-anchor="middle">10<tspan dx="0.3" dy="-2.8" font-size="5.1">4</tspan></text>
<text class="s" x="508.5" y="419.0" font-size="6.6" text-anchor="middle">10<tspan dx="0.3" dy="-2.8" font-size="5.1">5</tspan></text>
<line x1="456.5" y1="260.8" x2="493.5" y2="260.8" stroke="#111" stroke-width="2"/>
<line x1="456.5" y1="260.5" x2="456.5" y2="312.0" stroke="#111" stroke-width="1"/>
<line x1="456.5" y1="300.0" x2="437.5" y2="328.5" stroke="#111" stroke-width="1"/>
<line x1="377.0" y1="328.5" x2="437.5" y2="328.5" stroke="#111" stroke-width="1"/>
<line x1="437.5" y1="328.5" x2="472.0" y2="355.5" stroke="#111" stroke-width="1"/>
<line x1="477.0" y1="329.5" x2="519.0" y2="329.5" stroke="#111" stroke-width="1"/>
<polyline points="489.5,329.5 472.0,355.5 472.0,404.5" fill="none" stroke="#111" stroke-width="1"/>
<text x="419.3" y="302.5" font-size="6.6" text-anchor="middle" font-weight="normal" >HOEmedium</text>
<text x="419.3" y="310.5" font-size="6.6" text-anchor="middle" font-weight="normal" >46</text>
<text x="516.0" y="269.5" font-size="6.6" text-anchor="end" font-weight="normal" >HOEbright</text>
<text x="516.0" y="277.0" font-size="6.6" text-anchor="end" font-weight="normal" >12.1</text>
<text x="439.0" y="385.5" font-size="6.6" text-anchor="middle" font-weight="normal" >HOEneg</text>
<text x="439.0" y="393.0" font-size="6.6" text-anchor="middle" font-weight="normal" >40.7</text>
<text x="113.8" y="465.5" font-size="17" text-anchor="start" font-weight="bold" >E</text>
<rect x="161.5" y="465.5" width="171.5" height="175.2" fill="none" stroke="#111" stroke-width="1.2"/>
<line x1="158.5" y1="640.7" x2="161.5" y2="640.7" stroke="#111" stroke-width="1.1"/>
<text x="152.3" y="647.5" font-size="12.5" text-anchor="end" font-weight="normal" >0</text>
<line x1="158.5" y1="611.5" x2="161.5" y2="611.5" stroke="#111" stroke-width="1.1"/>
<text x="152.3" y="618.3" font-size="12.5" text-anchor="end" font-weight="normal" >20</text>
<line x1="158.5" y1="582.3" x2="161.5" y2="582.3" stroke="#111" stroke-width="1.1"/>
<text x="152.3" y="589.1" font-size="12.5" text-anchor="end" font-weight="normal" >40</text>
<line x1="158.5" y1="553.1" x2="161.5" y2="553.1" stroke="#111" stroke-width="1.1"/>
<text x="152.3" y="559.9" font-size="12.5" text-anchor="end" font-weight="normal" >60</text>
<line x1="158.5" y1="523.9" x2="161.5" y2="523.9" stroke="#111" stroke-width="1.1"/>
<text x="152.3" y="530.7" font-size="12.5" text-anchor="end" font-weight="normal" >80</text>
<line x1="158.5" y1="494.7" x2="161.5" y2="494.7" stroke="#111" stroke-width="1.1"/>
<text x="152.3" y="501.5" font-size="12.5" text-anchor="end" font-weight="normal" >100</text>
<line x1="158.5" y1="465.4" x2="161.5" y2="465.4" stroke="#111" stroke-width="1.1"/>
<text x="152.3" y="472.2" font-size="12.5" text-anchor="end" font-weight="normal" >120</text>
<line x1="221.0" y1="640.7" x2="221.0" y2="644.5" stroke="#111" stroke-width="1.1"/>
<line x1="276.0" y1="640.7" x2="276.0" y2="644.5" stroke="#111" stroke-width="1.1"/>
<rect x="182.7" y="494.7" width="23.1" height="20.2" fill="#fff" stroke="#000" stroke-width="1.3"/>
<rect x="182.7" y="514.8" width="23.1" height="70.7" fill="#c6c6c6" stroke="#000" stroke-width="1.3"/>
<rect x="182.7" y="585.5" width="23.1" height="55.2" fill="#000" stroke="#000" stroke-width="1.3"/>
<rect x="236" y="494.7" width="22.5" height="14.6" fill="#fff" stroke="#000" stroke-width="1.3"/>
<rect x="236" y="509.3" width="22.5" height="80.3" fill="#c6c6c6" stroke="#000" stroke-width="1.3"/>
<rect x="236" y="589.6" width="22.5" height="51.1" fill="#000" stroke="#000" stroke-width="1.3"/>
<rect x="292.5" y="494.7" width="23.3" height="6.9" fill="#fff" stroke="#000" stroke-width="1.3"/>
<rect x="292.5" y="501.5" width="23.3" height="53.0" fill="#c6c6c6" stroke="#000" stroke-width="1.3"/>
<rect x="292.5" y="554.5" width="23.3" height="86.2" fill="#000" stroke="#000" stroke-width="1.3"/>
<line x1="194.8" y1="485.4" x2="194.8" y2="503.8" stroke="#111" stroke-width="1.3"/>
<line x1="192.0" y1="485.4" x2="197.6" y2="485.4" stroke="#111" stroke-width="1.3"/>
<line x1="192.0" y1="503.8" x2="197.6" y2="503.8" stroke="#111" stroke-width="1.3"/>
<line x1="194.8" y1="507.7" x2="194.8" y2="520.8" stroke="#111" stroke-width="1.3"/>
<line x1="192.0" y1="507.7" x2="197.6" y2="507.7" stroke="#111" stroke-width="1.3"/>
<line x1="192.0" y1="520.8" x2="197.6" y2="520.8" stroke="#111" stroke-width="1.3"/>
<line x1="194.8" y1="579.0" x2="194.8" y2="584.7" stroke="#111" stroke-width="1.3"/>
<line x1="192.0" y1="579.0" x2="197.6" y2="579.0" stroke="#111" stroke-width="1.3"/>
<line x1="192.0" y1="584.7" x2="197.6" y2="584.7" stroke="#111" stroke-width="1.3"/>
<line x1="246.8" y1="493.7" x2="246.8" y2="496.0" stroke="#111" stroke-width="1.3"/>
<line x1="244.0" y1="493.7" x2="249.6" y2="493.7" stroke="#111" stroke-width="1.3"/>
<line x1="244.0" y1="496.0" x2="249.6" y2="496.0" stroke="#111" stroke-width="1.3"/>
<line x1="246.8" y1="505.4" x2="246.8" y2="512.0" stroke="#111" stroke-width="1.3"/>
<line x1="244.0" y1="505.4" x2="249.6" y2="505.4" stroke="#111" stroke-width="1.3"/>
<line x1="244.0" y1="512.0" x2="249.6" y2="512.0" stroke="#111" stroke-width="1.3"/>
<line x1="246.8" y1="585.6" x2="246.8" y2="588.5" stroke="#111" stroke-width="1.3"/>
<line x1="244.0" y1="585.6" x2="249.6" y2="585.6" stroke="#111" stroke-width="1.3"/>
<line x1="244.0" y1="588.5" x2="249.6" y2="588.5" stroke="#111" stroke-width="1.3"/>
<line x1="304.0" y1="492.0" x2="304.0" y2="498.3" stroke="#111" stroke-width="1.3"/>
<line x1="301.2" y1="492.0" x2="306.8" y2="492.0" stroke="#111" stroke-width="1.3"/>
<line x1="301.2" y1="498.3" x2="306.8" y2="498.3" stroke="#111" stroke-width="1.3"/>
<line x1="304.0" y1="500.5" x2="304.0" y2="503.5" stroke="#111" stroke-width="1.3"/>
<line x1="301.2" y1="500.5" x2="306.8" y2="500.5" stroke="#111" stroke-width="1.3"/>
<line x1="301.2" y1="503.5" x2="306.8" y2="503.5" stroke="#111" stroke-width="1.3"/>
<line x1="304.0" y1="550.7" x2="304.0" y2="554.4" stroke="#111" stroke-width="1.3"/>
<line x1="301.2" y1="550.7" x2="306.8" y2="550.7" stroke="#111" stroke-width="1.3"/>
<line x1="301.2" y1="554.4" x2="306.8" y2="554.4" stroke="#111" stroke-width="1.3"/>
<text transform="translate(120.3,545.3) rotate(-90)" font-size="13.2" text-anchor="middle">Proportion of cells</text>
<polygon points="337.3,495 352.6,495 352.2,641.5" fill="#cfcfcf" stroke="#000" stroke-width="1.1"/>
<text transform="translate(366,569.5) rotate(-90)" font-size="11" font-weight="bold" text-anchor="middle">blood perfusion</text>
<rect x="386" y="505.6" width="109.5" height="83" fill="none" stroke="#222" stroke-width="1"/>
<rect x="392.3" y="516.5" width="7.8" height="8.2" fill="#fff" stroke="#000" stroke-width="1"/>
<text x="405.0" y="520.8" font-size="11" text-anchor="start" font-weight="normal" >Ho-bright</text>
<rect x="392.3" y="544.7" width="7.8" height="8.2" fill="#c6c6c6" stroke="#000" stroke-width="1"/>
<text x="405.0" y="549.0" font-size="11" text-anchor="start" font-weight="normal" >Ho-medium</text>
<rect x="392.3" y="571.5" width="7.8" height="8.2" fill="#000" stroke="#000" stroke-width="1"/>
<text x="405.0" y="575.8" font-size="11" text-anchor="start" font-weight="normal" >Ho-neg</text>
<text x="198.6" y="659.6" font-size="10.6" text-anchor="middle" font-weight="normal" >Flt3+</text>
<text x="252.8" y="659.6" font-size="10.6" text-anchor="middle" font-weight="normal" >CD34+</text>
<text x="249.5" y="671.2" font-size="10.6" text-anchor="middle" font-weight="normal" >Flt3-</text>
<text x="309.3" y="659.6" font-size="10.6" text-anchor="middle" font-weight="normal" >CD34-</text>
<text x="308.8" y="671.2" font-size="10.6" text-anchor="middle" font-weight="normal" >Flt3-</text>
<polygon points="184,676.3 326.8,676.3 326.8,691.6" fill="#cfcfcf" stroke="#000" stroke-width="1.1"/>
<text x="322.8" y="701.6" font-size="9" text-anchor="end" font-weight="normal" >More primitive</text>
</svg></body></html>
